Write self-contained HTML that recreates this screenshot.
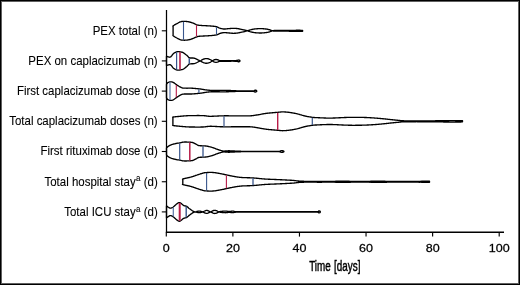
<!DOCTYPE html>
<html><head><meta charset="utf-8"><style>
html,body{margin:0;padding:0;background:#fff;}
body{width:520px;height:285px;overflow:hidden;position:relative;}
.frame{position:absolute;left:0;top:0;width:520px;height:285px;box-sizing:border-box;border:1px solid #000;box-shadow:inset 0 0 0 1px #606060;}
svg{position:absolute;left:0;top:0;will-change:transform;}
text{font-family:"Liberation Sans",sans-serif;fill:#000;}
.lb{font-size:12.4px;stroke:#000;stroke-width:0.1px;}
.sup{font-size:8.6px;}
.tk{font-size:11.6px;stroke:#000;stroke-width:0.25px;}
.ttl{font-size:14.0px;word-spacing:0.8px;stroke:#000;stroke-width:0.45px;}
</style></head><body>
<svg width="520" height="285" viewBox="0 0 520 285">
<path d="M173.1,26.35 L172.9,26.16 L173.2,25.80 L173.5,25.56 L174.0,25.26 L174.5,24.92 L175.1,24.56 L175.8,24.20 L176.4,23.85 L176.9,23.59 L177.4,23.31 L178.0,23.02 L178.5,22.73 L179.1,22.45 L179.6,22.20 L180.1,21.98 L180.6,21.80 L181.2,21.63 L181.7,21.52 L182.1,21.46 L182.6,21.43 L183.1,21.41 L183.6,21.40 L184.1,21.39 L184.6,21.39 L185.2,21.40 L185.7,21.43 L186.3,21.47 L186.8,21.52 L187.4,21.60 L187.9,21.68 L188.4,21.77 L188.9,21.87 L189.5,21.99 L190.0,22.12 L190.5,22.26 L191.1,22.42 L191.6,22.60 L192.1,22.78 L192.6,22.99 L193.2,23.23 L193.8,23.47 L194.3,23.72 L194.8,23.96 L195.3,24.19 L195.8,24.39 L196.2,24.55 L196.9,24.81 L197.3,24.98 L197.7,25.09 L198.3,25.20 L198.8,25.27 L199.2,25.33 L199.8,25.37 L200.3,25.41 L201.0,25.45 L201.7,25.50 L202.1,25.53 L202.6,25.55 L203.2,25.58 L203.7,25.61 L204.3,25.64 L204.9,25.66 L205.5,25.69 L206.0,25.72 L206.6,25.75 L207.1,25.77 L207.6,25.80 L208.2,25.84 L208.8,25.87 L209.4,25.90 L209.9,25.93 L210.4,25.97 L210.9,26.00 L211.5,26.05 L212.0,26.10 L212.6,26.15 L213.1,26.21 L213.7,26.26 L214.2,26.33 L214.8,26.40 L215.4,26.48 L215.9,26.58 L216.4,26.70 L217.0,26.87 L217.5,27.08 L218.0,27.32 L218.5,27.56 L219.0,27.80 L219.5,28.01 L220.0,28.20 L220.5,28.34 L221.0,28.48 L221.5,28.60 L222.0,28.71 L222.5,28.81 L223.0,28.89 L223.5,28.96 L224.0,29.00 L224.5,29.02 L225.0,29.00 L225.4,28.97 L225.9,28.93 L226.4,28.87 L226.9,28.81 L227.4,28.75 L228.0,28.70 L228.5,28.66 L229.0,28.62 L229.5,28.57 L230.1,28.51 L230.6,28.46 L231.2,28.41 L231.7,28.37 L232.3,28.34 L232.8,28.31 L233.3,28.30 L233.9,28.30 L234.4,28.32 L235.0,28.34 L235.5,28.38 L236.0,28.43 L236.5,28.48 L237.0,28.54 L237.5,28.60 L238.0,28.68 L238.6,28.77 L239.1,28.87 L239.6,28.98 L240.0,29.09 L240.5,29.20 L241.0,29.30 L241.6,29.42 L242.1,29.53 L242.7,29.64 L243.2,29.76 L243.8,29.88 L244.3,30.00 L244.8,30.13 L245.3,30.25 L245.8,30.38 L246.3,30.51 L246.8,30.65 L247.3,30.80 L247.8,30.96 L248.3,31.13 L248.8,31.30 L249.4,31.47 L249.9,31.64 L250.5,31.80 L251.0,31.91 L251.4,32.02 L251.9,32.13 L252.4,32.24 L252.9,32.34 L253.4,32.43 L253.9,32.52 L254.5,32.60 L254.9,32.65 L255.4,32.71 L255.9,32.76 L256.4,32.80 L256.9,32.85 L257.4,32.89 L258.0,32.92 L258.5,32.95 L259.0,32.98 L259.5,32.99 L260.0,33.00 L260.5,33.00 L261.0,32.99 L261.6,32.97 L262.1,32.95 L262.6,32.92 L263.1,32.88 L263.6,32.84 L264.1,32.80 L264.5,32.75 L265.0,32.70 L265.6,32.64 L266.1,32.56 L266.6,32.49 L267.1,32.41 L267.6,32.32 L268.1,32.22 L268.5,32.11 L269.0,32.00 L269.5,31.85 L270.1,31.67 L270.6,31.47 L271.1,31.28 L271.6,31.09 L272.1,30.93 L272.5,30.80 L272.9,30.68 L273.2,30.60 L273.5,30.56 L274.0,30.53 L275.0,30.50 L275.3,30.49 L275.7,30.49 L276.1,30.48 L276.5,30.48 L277.0,30.47 L277.4,30.47 L277.9,30.47 L278.5,30.47 L279.0,30.47 L279.5,30.47 L280.1,30.47 L280.6,30.47 L281.2,30.46 L281.8,30.46 L282.3,30.46 L282.9,30.46 L283.4,30.46 L284.0,30.46 L284.5,30.45 L285.0,30.45 L285.5,30.44 L286.0,30.44 L286.5,30.43 L287.0,30.42 L287.6,30.42 L288.1,30.41 L288.6,30.40 L289.1,30.39 L289.6,30.38 L290.2,30.37 L290.7,30.36 L291.2,30.35 L291.7,30.35 L292.2,30.34 L292.7,30.33 L293.2,30.32 L293.6,30.32 L294.1,30.31 L294.6,30.30 L295.0,30.30 L295.6,30.30 L296.1,30.29 L296.7,30.29 L297.2,30.29 L297.7,30.29 L298.2,30.29 L298.7,30.29 L299.2,30.29 L299.7,30.29 L300.2,30.29 L300.6,30.30 L301.1,30.30 L301.6,30.30 L302.1,30.30 L302.6,30.30 L302.6,31.30 L302.1,31.30 L301.6,31.30 L301.1,31.30 L300.6,31.30 L300.2,31.31 L299.7,31.31 L299.2,31.31 L298.7,31.31 L298.2,31.31 L297.7,31.31 L297.2,31.31 L296.7,31.31 L296.1,31.31 L295.6,31.30 L295.0,31.30 L294.6,31.30 L294.1,31.29 L293.6,31.28 L293.2,31.28 L292.7,31.27 L292.2,31.26 L291.7,31.25 L291.2,31.25 L290.7,31.24 L290.2,31.23 L289.6,31.22 L289.1,31.21 L288.6,31.20 L288.1,31.19 L287.6,31.18 L287.0,31.18 L286.5,31.17 L286.0,31.16 L285.5,31.16 L285.0,31.15 L284.5,31.15 L284.0,31.14 L283.4,31.14 L282.9,31.14 L282.3,31.14 L281.8,31.14 L281.2,31.14 L280.6,31.13 L280.1,31.13 L279.5,31.13 L279.0,31.13 L278.5,31.13 L277.9,31.13 L277.4,31.13 L277.0,31.13 L276.5,31.12 L276.1,31.12 L275.7,31.11 L275.3,31.11 L275.0,31.10 L274.0,31.07 L273.5,31.04 L273.2,31.00 L272.9,30.92 L272.5,30.80 L272.1,30.67 L271.6,30.51 L271.1,30.32 L270.6,30.13 L270.1,29.93 L269.5,29.75 L269.0,29.60 L268.5,29.49 L268.1,29.38 L267.6,29.28 L267.1,29.19 L266.6,29.11 L266.1,29.04 L265.6,28.96 L265.0,28.90 L264.5,28.85 L264.1,28.80 L263.6,28.76 L263.1,28.72 L262.6,28.68 L262.1,28.65 L261.6,28.63 L261.0,28.61 L260.5,28.60 L260.0,28.60 L259.5,28.61 L259.0,28.62 L258.5,28.65 L258.0,28.68 L257.4,28.71 L256.9,28.75 L256.4,28.80 L255.9,28.84 L255.4,28.89 L254.9,28.95 L254.5,29.00 L253.9,29.08 L253.4,29.17 L252.9,29.26 L252.4,29.36 L251.9,29.47 L251.4,29.58 L251.0,29.69 L250.5,29.80 L249.9,29.96 L249.4,30.13 L248.8,30.30 L248.3,30.47 L247.8,30.64 L247.3,30.80 L246.8,30.95 L246.3,31.09 L245.8,31.22 L245.3,31.35 L244.8,31.47 L244.3,31.60 L243.8,31.72 L243.2,31.84 L242.7,31.96 L242.1,32.07 L241.6,32.18 L241.0,32.30 L240.5,32.40 L240.0,32.51 L239.6,32.62 L239.1,32.73 L238.6,32.83 L238.0,32.92 L237.5,33.00 L237.0,33.06 L236.5,33.12 L236.0,33.17 L235.5,33.22 L235.0,33.26 L234.4,33.28 L233.9,33.30 L233.3,33.30 L232.8,33.29 L232.3,33.26 L231.7,33.23 L231.2,33.19 L230.6,33.14 L230.1,33.09 L229.5,33.03 L229.0,32.98 L228.5,32.94 L228.0,32.90 L227.4,32.85 L226.9,32.79 L226.4,32.73 L225.9,32.67 L225.4,32.63 L225.0,32.60 L224.5,32.58 L224.0,32.60 L223.5,32.64 L223.0,32.71 L222.5,32.79 L222.0,32.89 L221.5,33.00 L221.0,33.12 L220.5,33.26 L220.0,33.40 L219.5,33.59 L219.0,33.80 L218.5,34.04 L218.0,34.28 L217.5,34.52 L217.0,34.73 L216.4,34.90 L215.9,35.02 L215.4,35.12 L214.8,35.20 L214.2,35.27 L213.7,35.34 L213.1,35.39 L212.6,35.45 L212.0,35.50 L211.5,35.55 L210.9,35.60 L210.4,35.63 L209.9,35.67 L209.4,35.70 L208.8,35.73 L208.2,35.76 L207.6,35.80 L207.1,35.83 L206.6,35.85 L206.0,35.88 L205.5,35.91 L204.9,35.94 L204.3,35.96 L203.7,35.99 L203.2,36.02 L202.6,36.05 L202.1,36.07 L201.7,36.10 L201.0,36.15 L200.3,36.19 L199.8,36.23 L199.2,36.27 L198.8,36.33 L198.3,36.40 L197.7,36.51 L197.3,36.62 L196.9,36.79 L196.2,37.05 L195.8,37.21 L195.3,37.41 L194.8,37.64 L194.3,37.88 L193.8,38.13 L193.2,38.37 L192.6,38.61 L192.1,38.82 L191.6,39.00 L191.1,39.18 L190.5,39.34 L190.0,39.48 L189.5,39.61 L188.9,39.73 L188.4,39.83 L187.9,39.92 L187.4,40.00 L186.8,40.08 L186.3,40.13 L185.7,40.17 L185.2,40.20 L184.6,40.21 L184.1,40.21 L183.6,40.20 L183.1,40.19 L182.6,40.17 L182.1,40.14 L181.7,40.08 L181.2,39.97 L180.6,39.80 L180.1,39.62 L179.6,39.40 L179.1,39.15 L178.5,38.87 L178.0,38.58 L177.4,38.29 L176.9,38.01 L176.4,37.75 L175.8,37.40 L175.1,37.04 L174.5,36.68 L174.0,36.34 L173.5,36.04 L173.2,35.80 L172.9,35.44 L173.1,35.25Z" fill="#fff" stroke="#000" stroke-width="1.35" stroke-linejoin="round"/>
<line x1="183.50" y1="21.80" x2="183.50" y2="39.80" stroke="#39568c" stroke-width="1.1"/>
<line x1="196.50" y1="25.07" x2="196.50" y2="36.53" stroke="#b71c48" stroke-width="1.1"/>
<line x1="216.50" y1="27.13" x2="216.50" y2="34.47" stroke="#39568c" stroke-width="1.1"/>
<path d="M166.5,56.30 L167.0,56.46 L167.5,56.62 L168.0,56.77 L168.5,56.90 L169.0,57.07 L169.5,57.21 L170.0,57.20 L170.5,56.98 L171.0,56.60 L171.5,56.10 L172.0,55.43 L172.5,54.63 L173.1,53.90 L173.6,53.43 L174.3,53.00 L174.9,52.62 L175.5,52.30 L176.0,52.06 L176.6,51.89 L177.1,51.77 L177.7,51.70 L178.2,51.68 L178.8,51.69 L179.4,51.74 L179.9,51.81 L180.5,51.90 L181.0,51.99 L181.5,52.09 L182.1,52.22 L182.6,52.42 L183.2,52.70 L183.7,52.98 L184.2,53.32 L184.7,53.70 L185.3,54.11 L185.8,54.52 L186.3,54.92 L186.8,55.30 L187.5,55.96 L188.1,56.64 L188.6,57.25 L189.1,57.70 L189.7,57.96 L190.3,57.99 L191.0,58.00 L191.5,58.02 L192.0,58.03 L192.6,58.03 L193.2,58.04 L193.7,58.10 L194.3,58.23 L194.9,58.39 L195.5,58.59 L196.0,58.80 L196.5,59.03 L197.0,59.27 L197.5,59.54 L198.0,59.80 L198.5,60.06 L199.1,60.33 L199.6,60.61 L200.2,60.90 L200.8,61.21 L201.4,61.54 L201.9,61.87 L202.5,62.15 L203.0,62.39 L203.5,62.61 L204.0,62.80 L204.5,62.95 L205.1,63.11 L205.8,63.22 L206.4,63.25 L206.9,63.22 L207.4,63.15 L208.0,63.04 L208.5,62.90 L209.0,62.73 L209.5,62.52 L210.0,62.30 L210.5,62.05 L211.0,61.78 L211.5,61.48 L212.0,61.18 L212.5,60.90 L213.0,60.55 L213.5,60.22 L214.0,59.95 L214.5,59.74 L215.1,59.59 L215.6,59.50 L216.3,59.49 L217.0,59.60 L217.5,59.76 L218.1,59.96 L218.6,60.15 L219.2,60.38 L219.9,60.55 L220.3,60.58 L220.8,60.59 L221.3,60.58 L222.0,60.58 L222.4,60.58 L222.9,60.59 L223.4,60.59 L223.9,60.59 L224.4,60.59 L225.0,60.60 L225.5,60.60 L226.0,60.60 L226.5,60.60 L227.0,60.60 L227.5,60.60 L228.0,60.60 L228.5,60.60 L229.0,60.60 L229.5,60.60 L230.0,60.60 L230.5,60.60 L231.0,60.60 L231.6,60.60 L232.1,60.61 L232.6,60.61 L233.1,60.61 L233.6,60.60 L234.0,60.60 L234.7,60.59 L235.3,60.58 L235.8,60.57 L236.3,60.54 L236.8,60.50 L237.4,60.36 L237.9,60.17 L238.3,60.05 L238.9,60.04 L239.3,60.15 L239.6,60.35 L239.9,60.60 L239.9,61.20 L239.6,61.45 L239.3,61.65 L238.9,61.76 L238.3,61.75 L237.9,61.63 L237.4,61.44 L236.8,61.30 L236.3,61.26 L235.8,61.23 L235.3,61.22 L234.7,61.21 L234.0,61.20 L233.6,61.20 L233.1,61.19 L232.6,61.19 L232.1,61.19 L231.6,61.20 L231.0,61.20 L230.5,61.20 L230.0,61.20 L229.5,61.20 L229.0,61.20 L228.5,61.20 L228.0,61.20 L227.5,61.20 L227.0,61.20 L226.5,61.20 L226.0,61.20 L225.5,61.20 L225.0,61.20 L224.4,61.21 L223.9,61.21 L223.4,61.21 L222.9,61.21 L222.4,61.22 L222.0,61.22 L221.3,61.22 L220.8,61.21 L220.3,61.22 L219.9,61.25 L219.2,61.42 L218.6,61.65 L218.1,61.84 L217.5,62.04 L217.0,62.20 L216.3,62.31 L215.6,62.30 L215.1,62.21 L214.5,62.06 L214.0,61.85 L213.5,61.58 L213.0,61.25 L212.5,60.90 L212.0,60.62 L211.5,60.32 L211.0,60.02 L210.5,59.75 L210.0,59.50 L209.5,59.27 L209.0,59.07 L208.5,58.90 L208.0,58.76 L207.4,58.65 L206.9,58.58 L206.4,58.55 L205.8,58.58 L205.1,58.69 L204.5,58.85 L204.0,59.00 L203.5,59.19 L203.0,59.41 L202.5,59.65 L201.9,59.93 L201.4,60.26 L200.8,60.59 L200.2,60.90 L199.6,61.19 L199.1,61.47 L198.5,61.74 L198.0,62.00 L197.5,62.26 L197.0,62.52 L196.5,62.77 L196.0,63.00 L195.5,63.21 L194.9,63.41 L194.3,63.57 L193.7,63.70 L193.2,63.76 L192.6,63.77 L192.0,63.77 L191.5,63.78 L191.0,63.80 L190.3,63.81 L189.7,63.84 L189.1,64.10 L188.6,64.55 L188.1,65.16 L187.5,65.84 L186.8,66.50 L186.3,66.88 L185.8,67.28 L185.3,67.69 L184.7,68.10 L184.2,68.48 L183.7,68.82 L183.2,69.10 L182.6,69.38 L182.1,69.58 L181.5,69.71 L181.0,69.81 L180.5,69.90 L179.9,69.99 L179.4,70.06 L178.8,70.11 L178.2,70.12 L177.7,70.10 L177.1,70.03 L176.6,69.91 L176.0,69.74 L175.5,69.50 L174.9,69.18 L174.3,68.80 L173.6,68.37 L173.1,67.90 L172.5,67.17 L172.0,66.37 L171.5,65.70 L171.0,65.20 L170.5,64.82 L170.0,64.60 L169.5,64.59 L169.0,64.73 L168.5,64.90 L168.0,65.03 L167.5,65.18 L167.0,65.34 L166.5,65.50Z" fill="#fff" stroke="#000" stroke-width="1.35" stroke-linejoin="round"/>
<line x1="176.60" y1="52.28" x2="176.60" y2="69.52" stroke="#39568c" stroke-width="1.2"/>
<line x1="180.00" y1="52.22" x2="180.00" y2="69.58" stroke="#b71c48" stroke-width="1.6"/>
<line x1="189.30" y1="58.18" x2="189.30" y2="63.62" stroke="#39568c" stroke-width="1.5"/>
<path d="M166.5,84.30 L167.0,83.66 L167.4,83.02 L168.0,82.50 L168.5,82.27 L169.1,82.08 L169.7,81.94 L170.3,81.85 L170.8,81.80 L171.4,81.80 L171.9,81.87 L172.5,82.03 L173.1,82.30 L173.6,82.57 L174.1,82.90 L174.6,83.28 L175.2,83.69 L175.7,84.10 L176.3,84.50 L176.8,84.84 L177.3,85.21 L177.9,85.58 L178.5,85.95 L179.0,86.30 L179.5,86.62 L180.0,86.90 L180.6,87.22 L181.1,87.48 L181.6,87.69 L182.1,87.86 L182.7,88.00 L183.2,88.09 L183.7,88.14 L184.2,88.17 L184.7,88.18 L185.3,88.19 L186.0,88.20 L186.4,88.21 L186.9,88.20 L187.4,88.20 L187.9,88.19 L188.4,88.17 L189.0,88.17 L189.6,88.16 L190.2,88.16 L190.8,88.18 L191.4,88.20 L191.9,88.22 L192.4,88.26 L192.9,88.29 L193.5,88.33 L194.0,88.37 L194.6,88.42 L195.2,88.47 L195.7,88.52 L196.3,88.57 L196.8,88.62 L197.3,88.67 L197.8,88.71 L198.3,88.76 L198.7,88.80 L199.4,88.88 L200.0,88.95 L200.5,89.02 L201.0,89.08 L201.5,89.15 L201.9,89.22 L202.4,89.30 L202.9,89.38 L203.4,89.47 L203.9,89.55 L204.3,89.64 L204.8,89.73 L205.4,89.82 L206.0,89.90 L206.4,89.95 L206.9,90.01 L207.4,90.07 L207.9,90.13 L208.4,90.18 L208.9,90.24 L209.4,90.29 L209.9,90.34 L210.5,90.38 L211.0,90.42 L211.5,90.45 L212.0,90.47 L212.5,90.48 L213.0,90.49 L213.5,90.49 L213.9,90.49 L214.4,90.49 L214.9,90.48 L215.4,90.47 L215.9,90.46 L216.5,90.46 L217.0,90.45 L217.5,90.44 L218.0,90.44 L218.5,90.43 L219.0,90.42 L219.5,90.41 L220.0,90.40 L220.6,90.39 L221.1,90.37 L221.6,90.37 L222.1,90.36 L222.6,90.35 L223.1,90.35 L223.6,90.35 L224.2,90.35 L224.8,90.36 L225.3,90.38 L225.9,90.39 L226.4,90.41 L226.9,90.43 L227.4,90.45 L228.0,90.47 L228.5,90.48 L229.0,90.50 L229.5,90.51 L230.0,90.53 L230.6,90.54 L231.1,90.56 L231.6,90.57 L232.1,90.59 L232.6,90.60 L233.1,90.62 L233.5,90.63 L234.0,90.65 L234.5,90.67 L234.9,90.70 L235.2,90.73 L235.6,90.75 L236.0,90.78 L236.5,90.81 L237.1,90.83 L238.0,90.85 L238.4,90.86 L238.7,90.86 L239.2,90.87 L239.6,90.88 L240.1,90.88 L240.6,90.89 L241.2,90.89 L241.7,90.90 L242.3,90.91 L242.9,90.91 L243.4,90.92 L244.0,90.92 L244.6,90.93 L245.2,90.93 L245.8,90.94 L246.3,90.94 L246.9,90.94 L247.4,90.94 L247.9,90.95 L248.4,90.95 L248.9,90.95 L249.3,90.95 L249.7,90.95 L250.0,90.95 L251.0,90.95 L251.7,90.94 L252.2,90.93 L252.6,90.91 L252.9,90.88 L253.2,90.85 L253.5,90.80 L254.2,90.60 L254.7,90.36 L255.1,90.20 L255.7,90.23 L256.2,90.40 L256.5,90.63 L256.8,90.90 L256.8,91.30 L256.5,91.57 L256.2,91.80 L255.7,91.97 L255.1,92.00 L254.7,91.84 L254.2,91.60 L253.5,91.40 L253.2,91.35 L252.9,91.32 L252.6,91.29 L252.2,91.27 L251.7,91.26 L251.0,91.25 L250.0,91.25 L249.7,91.25 L249.3,91.25 L248.9,91.25 L248.4,91.25 L247.9,91.25 L247.4,91.26 L246.9,91.26 L246.3,91.26 L245.8,91.26 L245.2,91.27 L244.6,91.27 L244.0,91.28 L243.4,91.28 L242.9,91.29 L242.3,91.29 L241.7,91.30 L241.2,91.31 L240.6,91.31 L240.1,91.32 L239.6,91.32 L239.2,91.33 L238.7,91.34 L238.4,91.34 L238.0,91.35 L237.1,91.37 L236.5,91.39 L236.0,91.42 L235.6,91.45 L235.2,91.47 L234.9,91.50 L234.5,91.53 L234.0,91.55 L233.5,91.57 L233.1,91.58 L232.6,91.60 L232.1,91.61 L231.6,91.63 L231.1,91.64 L230.6,91.66 L230.0,91.67 L229.5,91.69 L229.0,91.70 L228.5,91.72 L228.0,91.73 L227.4,91.75 L226.9,91.77 L226.4,91.79 L225.9,91.81 L225.3,91.82 L224.8,91.84 L224.2,91.85 L223.6,91.85 L223.1,91.85 L222.6,91.85 L222.1,91.84 L221.6,91.83 L221.1,91.83 L220.6,91.81 L220.0,91.80 L219.5,91.79 L219.0,91.78 L218.5,91.77 L218.0,91.76 L217.5,91.76 L217.0,91.75 L216.5,91.74 L215.9,91.74 L215.4,91.73 L214.9,91.72 L214.4,91.71 L213.9,91.71 L213.5,91.71 L213.0,91.71 L212.5,91.72 L212.0,91.73 L211.5,91.75 L211.0,91.78 L210.5,91.82 L209.9,91.86 L209.4,91.91 L208.9,91.96 L208.4,92.02 L207.9,92.07 L207.4,92.13 L206.9,92.19 L206.4,92.25 L206.0,92.30 L205.4,92.38 L204.8,92.47 L204.3,92.56 L203.9,92.65 L203.4,92.73 L202.9,92.82 L202.4,92.90 L201.9,92.98 L201.5,93.05 L201.0,93.12 L200.5,93.18 L200.0,93.25 L199.4,93.32 L198.7,93.40 L198.3,93.44 L197.8,93.49 L197.3,93.53 L196.8,93.58 L196.3,93.63 L195.7,93.68 L195.2,93.73 L194.6,93.78 L194.0,93.83 L193.5,93.87 L192.9,93.91 L192.4,93.94 L191.9,93.98 L191.4,94.00 L190.8,94.02 L190.2,94.04 L189.6,94.04 L189.0,94.03 L188.4,94.02 L187.9,94.01 L187.4,94.00 L186.9,94.00 L186.4,93.99 L186.0,94.00 L185.3,94.01 L184.7,94.02 L184.2,94.03 L183.7,94.06 L183.2,94.11 L182.7,94.20 L182.1,94.34 L181.6,94.51 L181.1,94.72 L180.6,94.98 L180.0,95.30 L179.5,95.58 L179.0,95.90 L178.5,96.25 L177.9,96.62 L177.3,96.99 L176.8,97.36 L176.3,97.70 L175.7,98.10 L175.2,98.51 L174.6,98.92 L174.1,99.30 L173.6,99.63 L173.1,99.90 L172.5,100.17 L171.9,100.33 L171.4,100.40 L170.8,100.40 L170.3,100.35 L169.7,100.26 L169.1,100.12 L168.5,99.93 L168.0,99.70 L167.4,99.18 L167.0,98.54 L166.5,97.90Z" fill="#fff" stroke="#000" stroke-width="1.35" stroke-linejoin="round"/>
<line x1="170.00" y1="82.29" x2="170.00" y2="99.91" stroke="#5a74a8" stroke-width="1.2"/>
<line x1="176.30" y1="84.90" x2="176.30" y2="97.30" stroke="#b71c48" stroke-width="1.1"/>
<line x1="198.90" y1="89.22" x2="198.90" y2="92.98" stroke="#39568c" stroke-width="1.2"/>
<path d="M172.9,117.25 L172.7,117.15 L173.3,117.00 L173.6,116.96 L174.0,116.91 L174.4,116.86 L174.9,116.81 L175.5,116.75 L176.0,116.69 L176.6,116.63 L177.2,116.57 L177.8,116.51 L178.4,116.46 L179.0,116.40 L179.5,116.35 L180.0,116.30 L180.5,116.26 L181.0,116.21 L181.5,116.16 L182.0,116.12 L182.6,116.07 L183.1,116.02 L183.6,115.98 L184.1,115.94 L184.6,115.90 L185.1,115.86 L185.5,115.83 L186.0,115.80 L186.5,115.76 L187.0,115.73 L187.4,115.71 L187.8,115.69 L188.2,115.67 L188.6,115.65 L189.1,115.63 L189.6,115.62 L190.2,115.61 L191.0,115.60 L191.4,115.60 L191.8,115.59 L192.2,115.58 L192.7,115.58 L193.2,115.57 L193.7,115.57 L194.2,115.56 L194.7,115.56 L195.3,115.55 L195.8,115.55 L196.4,115.55 L197.0,115.54 L197.5,115.54 L198.1,115.54 L198.7,115.54 L199.2,115.54 L199.7,115.55 L200.3,115.55 L200.8,115.56 L201.3,115.56 L201.7,115.57 L202.2,115.59 L202.6,115.60 L203.3,115.63 L203.9,115.68 L204.5,115.73 L205.1,115.79 L205.6,115.86 L206.1,115.93 L206.6,116.00 L207.1,116.06 L207.6,116.13 L208.0,116.19 L208.5,116.23 L209.0,116.27 L209.5,116.30 L210.0,116.31 L210.5,116.32 L211.0,116.32 L211.5,116.31 L212.0,116.29 L212.5,116.27 L213.0,116.25 L213.5,116.23 L213.9,116.20 L214.4,116.17 L215.0,116.15 L215.5,116.12 L216.0,116.10 L216.5,116.08 L216.9,116.06 L217.4,116.04 L217.8,116.01 L218.2,115.99 L218.6,115.96 L219.1,115.93 L219.5,115.91 L220.0,115.89 L220.6,115.86 L221.2,115.84 L221.9,115.83 L222.6,115.81 L223.4,115.80 L223.8,115.80 L224.2,115.79 L224.6,115.79 L225.0,115.79 L225.5,115.79 L225.9,115.79 L226.4,115.79 L226.9,115.79 L227.4,115.79 L228.0,115.79 L228.5,115.79 L229.0,115.80 L229.6,115.80 L230.1,115.80 L230.7,115.80 L231.2,115.81 L231.8,115.81 L232.4,115.81 L232.9,115.82 L233.5,115.82 L234.0,115.82 L234.6,115.83 L235.1,115.83 L235.7,115.83 L236.2,115.84 L236.7,115.84 L237.2,115.84 L237.7,115.84 L238.2,115.85 L238.7,115.85 L239.1,115.85 L239.6,115.85 L240.0,115.85 L240.7,115.85 L241.3,115.85 L241.9,115.86 L242.5,115.86 L243.1,115.87 L243.7,115.87 L244.2,115.88 L244.7,115.88 L245.3,115.89 L245.8,115.89 L246.3,115.89 L246.7,115.89 L247.2,115.89 L247.7,115.89 L248.1,115.88 L248.6,115.87 L249.1,115.86 L249.5,115.84 L250.0,115.82 L250.4,115.80 L251.0,115.76 L251.6,115.72 L252.1,115.67 L252.6,115.61 L253.1,115.55 L253.6,115.49 L254.1,115.42 L254.6,115.35 L255.1,115.27 L255.5,115.20 L256.0,115.12 L256.5,115.04 L257.0,114.96 L257.5,114.88 L258.0,114.80 L258.5,114.72 L259.0,114.64 L259.4,114.56 L259.9,114.47 L260.3,114.38 L260.8,114.29 L261.3,114.20 L261.7,114.11 L262.2,114.01 L262.7,113.92 L263.2,113.83 L263.7,113.74 L264.3,113.65 L264.8,113.56 L265.4,113.48 L266.0,113.40 L266.4,113.35 L266.9,113.29 L267.4,113.24 L267.9,113.18 L268.4,113.13 L268.9,113.07 L269.5,113.02 L270.0,112.97 L270.6,112.92 L271.2,112.86 L271.7,112.81 L272.3,112.76 L272.8,112.71 L273.4,112.67 L273.9,112.62 L274.5,112.57 L275.0,112.53 L275.5,112.49 L276.0,112.45 L276.4,112.41 L276.9,112.37 L277.3,112.33 L277.7,112.30 L278.4,112.23 L279.1,112.17 L279.6,112.11 L280.1,112.06 L280.6,112.01 L281.0,111.97 L281.4,111.94 L281.9,111.92 L282.3,111.90 L282.8,111.90 L283.3,111.90 L283.8,111.91 L284.3,111.93 L284.8,111.96 L285.3,111.99 L285.8,112.03 L286.3,112.07 L286.8,112.12 L287.3,112.17 L287.9,112.23 L288.4,112.29 L288.9,112.36 L289.5,112.43 L290.0,112.50 L290.5,112.57 L291.0,112.64 L291.5,112.72 L292.0,112.79 L292.5,112.88 L293.0,112.96 L293.5,113.05 L294.0,113.14 L294.5,113.24 L295.0,113.34 L295.5,113.45 L296.0,113.56 L296.6,113.68 L297.1,113.80 L297.6,113.92 L298.1,114.06 L298.6,114.20 L299.2,114.35 L299.7,114.50 L300.2,114.66 L300.8,114.82 L301.3,114.98 L301.8,115.14 L302.4,115.30 L302.9,115.45 L303.4,115.60 L304.0,115.74 L304.5,115.88 L305.0,116.00 L305.5,116.12 L306.1,116.24 L306.7,116.36 L307.2,116.47 L307.8,116.57 L308.4,116.67 L308.9,116.77 L309.5,116.86 L310.0,116.95 L310.5,117.03 L311.0,117.10 L311.5,117.17 L311.9,117.24 L312.3,117.30 L312.9,117.39 L313.3,117.45 L313.6,117.49 L313.9,117.51 L314.3,117.53 L315.0,117.56 L316.0,117.60 L316.3,117.62 L316.7,117.63 L317.1,117.65 L317.5,117.67 L317.9,117.69 L318.3,117.71 L318.8,117.74 L319.2,117.76 L319.7,117.78 L320.2,117.81 L320.7,117.83 L321.2,117.86 L321.8,117.88 L322.3,117.91 L322.8,117.93 L323.4,117.95 L323.9,117.97 L324.5,117.99 L325.1,118.01 L325.6,118.03 L326.2,118.05 L326.7,118.06 L327.3,118.07 L327.9,118.08 L328.4,118.09 L328.9,118.10 L329.5,118.10 L330.0,118.10 L330.5,118.10 L331.0,118.09 L331.5,118.08 L332.0,118.07 L332.5,118.06 L333.0,118.04 L333.5,118.03 L334.1,118.01 L334.6,117.99 L335.1,117.97 L335.7,117.94 L336.2,117.92 L336.7,117.90 L337.2,117.87 L337.8,117.84 L338.3,117.82 L338.8,117.79 L339.3,117.76 L339.9,117.74 L340.4,117.71 L340.9,117.69 L341.4,117.66 L341.8,117.64 L342.3,117.61 L342.8,117.59 L343.3,117.57 L343.7,117.55 L344.2,117.53 L344.6,117.51 L345.0,117.50 L345.6,117.48 L346.2,117.46 L346.8,117.44 L347.3,117.42 L347.8,117.41 L348.3,117.39 L348.8,117.38 L349.2,117.36 L349.7,117.35 L350.1,117.34 L350.6,117.33 L351.0,117.32 L351.5,117.31 L351.9,117.31 L352.4,117.30 L352.9,117.30 L353.5,117.30 L354.0,117.30 L354.6,117.30 L355.0,117.30 L355.5,117.31 L356.0,117.31 L356.5,117.31 L357.0,117.32 L357.5,117.32 L358.0,117.33 L358.5,117.34 L359.0,117.34 L359.5,117.35 L360.0,117.36 L360.6,117.37 L361.1,117.38 L361.7,117.39 L362.2,117.41 L362.7,117.42 L363.3,117.43 L363.8,117.45 L364.4,117.46 L364.9,117.48 L365.4,117.50 L365.9,117.52 L366.5,117.54 L367.0,117.56 L367.5,117.58 L368.0,117.60 L368.5,117.62 L369.0,117.65 L369.6,117.68 L370.1,117.71 L370.6,117.74 L371.1,117.77 L371.6,117.81 L372.2,117.84 L372.7,117.88 L373.2,117.91 L373.7,117.95 L374.2,117.99 L374.7,118.03 L375.3,118.06 L375.8,118.10 L376.3,118.14 L376.8,118.18 L377.2,118.22 L377.7,118.26 L378.2,118.30 L378.7,118.34 L379.1,118.38 L379.6,118.42 L380.1,118.46 L380.5,118.50 L381.1,118.55 L381.6,118.60 L382.2,118.65 L382.7,118.71 L383.3,118.76 L383.8,118.82 L384.3,118.87 L384.8,118.92 L385.3,118.98 L385.8,119.03 L386.3,119.09 L386.7,119.14 L387.2,119.20 L387.7,119.25 L388.2,119.30 L388.6,119.35 L389.1,119.40 L389.5,119.45 L390.0,119.50 L390.5,119.56 L391.1,119.61 L391.6,119.67 L392.1,119.72 L392.6,119.77 L393.1,119.83 L393.6,119.88 L394.1,119.93 L394.6,119.98 L395.1,120.03 L395.6,120.08 L396.0,120.12 L396.5,120.17 L397.0,120.21 L397.5,120.26 L398.0,120.30 L398.5,120.34 L398.9,120.38 L399.3,120.43 L399.6,120.47 L400.0,120.51 L400.3,120.55 L400.6,120.59 L401.0,120.62 L401.4,120.66 L401.8,120.70 L402.3,120.73 L402.9,120.76 L403.5,120.78 L404.2,120.81 L405.1,120.83 L406.0,120.85 L406.3,120.86 L406.7,120.86 L407.1,120.87 L407.5,120.87 L407.9,120.87 L408.3,120.88 L408.8,120.88 L409.2,120.88 L409.7,120.89 L410.2,120.89 L410.7,120.89 L411.2,120.89 L411.7,120.89 L412.3,120.89 L412.8,120.90 L413.3,120.90 L413.9,120.90 L414.4,120.90 L415.0,120.90 L415.6,120.90 L416.1,120.90 L416.7,120.90 L417.3,120.89 L417.9,120.89 L418.5,120.89 L419.0,120.89 L419.6,120.89 L420.2,120.89 L420.8,120.89 L421.3,120.89 L421.9,120.88 L422.4,120.88 L423.0,120.88 L423.5,120.88 L424.1,120.88 L424.6,120.87 L425.1,120.87 L425.6,120.87 L426.1,120.87 L426.6,120.87 L427.1,120.86 L427.6,120.86 L428.0,120.86 L428.4,120.86 L428.9,120.86 L429.3,120.85 L429.6,120.85 L430.0,120.85 L430.8,120.85 L431.6,120.84 L432.3,120.84 L432.9,120.83 L433.5,120.82 L434.0,120.82 L434.5,120.81 L435.0,120.80 L435.5,120.79 L435.9,120.78 L436.3,120.78 L436.7,120.77 L437.1,120.76 L437.4,120.75 L437.8,120.74 L438.2,120.73 L438.6,120.72 L439.1,120.72 L439.5,120.71 L440.0,120.70 L440.5,120.69 L441.0,120.68 L441.5,120.68 L442.0,120.67 L442.5,120.66 L443.0,120.65 L443.5,120.64 L444.0,120.63 L444.5,120.62 L445.0,120.61 L445.5,120.60 L446.0,120.60 L446.5,120.59 L447.0,120.58 L447.5,120.57 L448.0,120.57 L448.5,120.56 L449.0,120.56 L449.5,120.55 L450.0,120.55 L450.5,120.55 L451.0,120.55 L451.6,120.55 L452.1,120.55 L452.7,120.55 L453.2,120.55 L453.8,120.55 L454.4,120.55 L454.9,120.55 L455.5,120.56 L456.0,120.56 L456.5,120.56 L457.1,120.57 L457.6,120.57 L458.0,120.58 L458.5,120.58 L458.9,120.59 L459.3,120.59 L459.7,120.60 L460.0,120.60 L461.0,120.62 L461.5,120.65 L461.9,120.69 L462.1,120.72 L462.5,120.75 L462.5,121.85 L462.1,121.88 L461.9,121.91 L461.5,121.95 L461.0,121.98 L460.0,122.00 L459.7,122.00 L459.3,122.01 L458.9,122.01 L458.5,122.02 L458.0,122.02 L457.6,122.03 L457.1,122.03 L456.5,122.04 L456.0,122.04 L455.5,122.04 L454.9,122.05 L454.4,122.05 L453.8,122.05 L453.2,122.05 L452.7,122.05 L452.1,122.05 L451.6,122.05 L451.0,122.05 L450.5,122.05 L450.0,122.05 L449.5,122.05 L449.0,122.04 L448.5,122.04 L448.0,122.03 L447.5,122.03 L447.0,122.02 L446.5,122.01 L446.0,122.00 L445.5,122.00 L445.0,121.99 L444.5,121.98 L444.0,121.97 L443.5,121.96 L443.0,121.95 L442.5,121.94 L442.0,121.93 L441.5,121.92 L441.0,121.92 L440.5,121.91 L440.0,121.90 L439.5,121.89 L439.1,121.88 L438.6,121.88 L438.2,121.87 L437.8,121.86 L437.4,121.85 L437.1,121.84 L436.7,121.83 L436.3,121.82 L435.9,121.82 L435.5,121.81 L435.0,121.80 L434.5,121.79 L434.0,121.78 L433.5,121.78 L432.9,121.77 L432.3,121.76 L431.6,121.76 L430.8,121.75 L430.0,121.75 L429.6,121.75 L429.3,121.75 L428.9,121.74 L428.4,121.74 L428.0,121.74 L427.6,121.74 L427.1,121.74 L426.6,121.73 L426.1,121.73 L425.6,121.73 L425.1,121.73 L424.6,121.73 L424.1,121.72 L423.5,121.72 L423.0,121.72 L422.4,121.72 L421.9,121.72 L421.3,121.71 L420.8,121.71 L420.2,121.71 L419.6,121.71 L419.0,121.71 L418.5,121.71 L417.9,121.71 L417.3,121.71 L416.7,121.70 L416.1,121.70 L415.6,121.70 L415.0,121.70 L414.4,121.70 L413.9,121.70 L413.3,121.70 L412.8,121.70 L412.3,121.71 L411.7,121.71 L411.2,121.71 L410.7,121.71 L410.2,121.71 L409.7,121.71 L409.2,121.72 L408.8,121.72 L408.3,121.72 L407.9,121.73 L407.5,121.73 L407.1,121.73 L406.7,121.74 L406.3,121.74 L406.0,121.75 L405.1,121.77 L404.2,121.79 L403.5,121.82 L402.9,121.84 L402.3,121.87 L401.8,121.90 L401.4,121.94 L401.0,121.97 L400.6,122.01 L400.3,122.05 L400.0,122.09 L399.6,122.13 L399.3,122.17 L398.9,122.22 L398.5,122.26 L398.0,122.30 L397.5,122.34 L397.0,122.39 L396.5,122.43 L396.0,122.48 L395.6,122.52 L395.1,122.57 L394.6,122.62 L394.1,122.67 L393.6,122.72 L393.1,122.77 L392.6,122.83 L392.1,122.88 L391.6,122.93 L391.1,122.99 L390.5,123.04 L390.0,123.10 L389.5,123.15 L389.1,123.20 L388.6,123.25 L388.2,123.30 L387.7,123.35 L387.2,123.40 L386.7,123.46 L386.3,123.51 L385.8,123.57 L385.3,123.62 L384.8,123.68 L384.3,123.73 L383.8,123.78 L383.3,123.84 L382.7,123.89 L382.2,123.95 L381.6,124.00 L381.1,124.05 L380.5,124.10 L380.1,124.14 L379.6,124.18 L379.1,124.22 L378.7,124.26 L378.2,124.30 L377.7,124.34 L377.2,124.38 L376.8,124.42 L376.3,124.46 L375.8,124.50 L375.3,124.54 L374.7,124.57 L374.2,124.61 L373.7,124.65 L373.2,124.69 L372.7,124.72 L372.2,124.76 L371.6,124.79 L371.1,124.83 L370.6,124.86 L370.1,124.89 L369.6,124.92 L369.0,124.95 L368.5,124.98 L368.0,125.00 L367.5,125.02 L367.0,125.04 L366.5,125.06 L365.9,125.08 L365.4,125.10 L364.9,125.12 L364.4,125.14 L363.8,125.15 L363.3,125.17 L362.7,125.18 L362.2,125.19 L361.7,125.21 L361.1,125.22 L360.6,125.23 L360.0,125.24 L359.5,125.25 L359.0,125.26 L358.5,125.26 L358.0,125.27 L357.5,125.28 L357.0,125.28 L356.5,125.29 L356.0,125.29 L355.5,125.29 L355.0,125.30 L354.6,125.30 L354.0,125.30 L353.5,125.30 L352.9,125.30 L352.4,125.30 L351.9,125.29 L351.5,125.29 L351.0,125.28 L350.6,125.27 L350.1,125.26 L349.7,125.25 L349.2,125.24 L348.8,125.22 L348.3,125.21 L347.8,125.19 L347.3,125.18 L346.8,125.16 L346.2,125.14 L345.6,125.12 L345.0,125.10 L344.6,125.09 L344.2,125.07 L343.7,125.05 L343.3,125.03 L342.8,125.01 L342.3,124.99 L341.8,124.96 L341.4,124.94 L340.9,124.91 L340.4,124.89 L339.9,124.86 L339.3,124.84 L338.8,124.81 L338.3,124.78 L337.8,124.76 L337.2,124.73 L336.7,124.70 L336.2,124.68 L335.7,124.66 L335.1,124.63 L334.6,124.61 L334.1,124.59 L333.5,124.57 L333.0,124.56 L332.5,124.54 L332.0,124.53 L331.5,124.52 L331.0,124.51 L330.5,124.50 L330.0,124.50 L329.5,124.50 L328.9,124.50 L328.4,124.51 L327.9,124.52 L327.3,124.53 L326.7,124.54 L326.2,124.55 L325.6,124.57 L325.1,124.59 L324.5,124.61 L323.9,124.63 L323.4,124.65 L322.8,124.67 L322.3,124.69 L321.8,124.72 L321.2,124.74 L320.7,124.77 L320.2,124.79 L319.7,124.82 L319.2,124.84 L318.8,124.86 L318.3,124.89 L317.9,124.91 L317.5,124.93 L317.1,124.95 L316.7,124.97 L316.3,124.98 L316.0,125.00 L315.0,125.04 L314.3,125.07 L313.9,125.09 L313.6,125.11 L313.3,125.15 L312.9,125.21 L312.3,125.30 L311.9,125.36 L311.5,125.43 L311.0,125.50 L310.5,125.57 L310.0,125.65 L309.5,125.74 L308.9,125.83 L308.4,125.93 L307.8,126.03 L307.2,126.13 L306.7,126.24 L306.1,126.36 L305.5,126.48 L305.0,126.60 L304.5,126.72 L304.0,126.86 L303.4,127.00 L302.9,127.15 L302.4,127.30 L301.8,127.46 L301.3,127.62 L300.8,127.78 L300.2,127.94 L299.7,128.10 L299.2,128.25 L298.6,128.40 L298.1,128.54 L297.6,128.68 L297.1,128.80 L296.6,128.92 L296.0,129.04 L295.5,129.15 L295.0,129.26 L294.5,129.36 L294.0,129.46 L293.5,129.55 L293.0,129.64 L292.5,129.72 L292.0,129.81 L291.5,129.88 L291.0,129.96 L290.5,130.03 L290.0,130.10 L289.5,130.17 L288.9,130.24 L288.4,130.31 L287.9,130.37 L287.3,130.43 L286.8,130.48 L286.3,130.53 L285.8,130.57 L285.3,130.61 L284.8,130.64 L284.3,130.67 L283.8,130.69 L283.3,130.70 L282.8,130.70 L282.3,130.70 L281.9,130.68 L281.4,130.66 L281.0,130.63 L280.6,130.59 L280.1,130.54 L279.6,130.49 L279.1,130.43 L278.4,130.37 L277.7,130.30 L277.3,130.27 L276.9,130.23 L276.4,130.19 L276.0,130.15 L275.5,130.11 L275.0,130.07 L274.5,130.03 L273.9,129.98 L273.4,129.93 L272.8,129.89 L272.3,129.84 L271.7,129.79 L271.2,129.74 L270.6,129.68 L270.0,129.63 L269.5,129.58 L268.9,129.53 L268.4,129.47 L267.9,129.42 L267.4,129.36 L266.9,129.31 L266.4,129.25 L266.0,129.20 L265.4,129.12 L264.8,129.04 L264.3,128.95 L263.7,128.86 L263.2,128.77 L262.7,128.68 L262.2,128.59 L261.7,128.49 L261.3,128.40 L260.8,128.31 L260.3,128.22 L259.9,128.13 L259.4,128.04 L259.0,127.96 L258.5,127.88 L258.0,127.80 L257.5,127.72 L257.0,127.64 L256.5,127.56 L256.0,127.48 L255.5,127.40 L255.1,127.33 L254.6,127.25 L254.1,127.18 L253.6,127.11 L253.1,127.05 L252.6,126.99 L252.1,126.93 L251.6,126.88 L251.0,126.84 L250.4,126.80 L250.0,126.78 L249.5,126.76 L249.1,126.74 L248.6,126.73 L248.1,126.72 L247.7,126.71 L247.2,126.71 L246.7,126.71 L246.3,126.71 L245.8,126.71 L245.3,126.71 L244.7,126.72 L244.2,126.72 L243.7,126.73 L243.1,126.73 L242.5,126.74 L241.9,126.74 L241.3,126.75 L240.7,126.75 L240.0,126.75 L239.6,126.75 L239.1,126.75 L238.7,126.75 L238.2,126.75 L237.7,126.76 L237.2,126.76 L236.7,126.76 L236.2,126.76 L235.7,126.77 L235.1,126.77 L234.6,126.77 L234.0,126.78 L233.5,126.78 L232.9,126.78 L232.4,126.79 L231.8,126.79 L231.2,126.79 L230.7,126.80 L230.1,126.80 L229.6,126.80 L229.0,126.80 L228.5,126.81 L228.0,126.81 L227.4,126.81 L226.9,126.81 L226.4,126.81 L225.9,126.81 L225.5,126.81 L225.0,126.81 L224.6,126.81 L224.2,126.81 L223.8,126.80 L223.4,126.80 L222.6,126.79 L221.9,126.77 L221.2,126.76 L220.6,126.74 L220.0,126.71 L219.5,126.69 L219.1,126.67 L218.6,126.64 L218.2,126.61 L217.8,126.59 L217.4,126.56 L216.9,126.54 L216.5,126.52 L216.0,126.50 L215.5,126.48 L215.0,126.45 L214.4,126.43 L213.9,126.40 L213.5,126.37 L213.0,126.35 L212.5,126.33 L212.0,126.31 L211.5,126.29 L211.0,126.28 L210.5,126.28 L210.0,126.29 L209.5,126.30 L209.0,126.33 L208.5,126.37 L208.0,126.41 L207.6,126.47 L207.1,126.54 L206.6,126.60 L206.1,126.67 L205.6,126.74 L205.1,126.81 L204.5,126.87 L203.9,126.92 L203.3,126.97 L202.6,127.00 L202.2,127.01 L201.7,127.03 L201.3,127.04 L200.8,127.04 L200.3,127.05 L199.7,127.05 L199.2,127.06 L198.7,127.06 L198.1,127.06 L197.5,127.06 L197.0,127.06 L196.4,127.05 L195.8,127.05 L195.3,127.05 L194.7,127.04 L194.2,127.04 L193.7,127.03 L193.2,127.03 L192.7,127.02 L192.2,127.02 L191.8,127.01 L191.4,127.00 L191.0,127.00 L190.2,126.99 L189.6,126.98 L189.1,126.97 L188.6,126.95 L188.2,126.93 L187.8,126.91 L187.4,126.89 L187.0,126.87 L186.5,126.84 L186.0,126.80 L185.5,126.77 L185.1,126.74 L184.6,126.70 L184.1,126.66 L183.6,126.62 L183.1,126.58 L182.6,126.53 L182.0,126.48 L181.5,126.44 L181.0,126.39 L180.5,126.34 L180.0,126.30 L179.5,126.25 L179.0,126.20 L178.4,126.14 L177.8,126.09 L177.2,126.03 L176.6,125.97 L176.0,125.91 L175.5,125.85 L174.9,125.79 L174.4,125.74 L174.0,125.69 L173.6,125.64 L173.3,125.60 L172.7,125.45 L172.9,125.35Z" fill="#fff" stroke="#000" stroke-width="1.35" stroke-linejoin="round"/>
<line x1="224.00" y1="116.20" x2="224.00" y2="126.40" stroke="#39568c" stroke-width="1.2"/>
<line x1="277.70" y1="112.70" x2="277.70" y2="129.90" stroke="#b71c48" stroke-width="1.4"/>
<line x1="312.30" y1="117.70" x2="312.30" y2="124.90" stroke="#39568c" stroke-width="1.2"/>
<path d="M166.5,147.90 L167.0,147.47 L167.4,147.04 L167.9,146.62 L168.5,146.20 L168.9,145.92 L169.4,145.64 L169.9,145.37 L170.5,145.10 L171.1,144.84 L171.7,144.60 L172.2,144.45 L172.7,144.29 L173.2,144.14 L173.8,144.00 L174.4,143.86 L175.0,143.73 L175.5,143.61 L176.0,143.50 L176.5,143.40 L177.1,143.28 L177.7,143.19 L178.2,143.12 L178.6,143.06 L179.2,142.99 L179.7,142.90 L180.2,142.79 L180.7,142.67 L181.2,142.54 L181.8,142.40 L182.3,142.28 L182.9,142.17 L183.5,142.10 L184.0,142.06 L184.5,142.04 L185.0,142.03 L185.5,142.02 L186.0,142.03 L186.5,142.04 L187.0,142.06 L187.5,142.08 L188.0,142.10 L188.6,142.12 L189.1,142.15 L189.7,142.18 L190.3,142.21 L190.8,142.26 L191.4,142.32 L191.9,142.40 L192.4,142.50 L193.0,142.67 L193.5,142.89 L194.0,143.12 L194.5,143.38 L195.0,143.64 L195.5,143.90 L196.0,144.17 L196.6,144.47 L197.1,144.77 L197.6,145.06 L198.2,145.31 L198.7,145.50 L199.2,145.63 L199.8,145.70 L200.3,145.74 L200.8,145.76 L201.4,145.77 L202.0,145.80 L202.5,145.83 L203.0,145.85 L203.5,145.86 L204.0,145.88 L204.5,145.90 L205.1,145.92 L205.5,145.96 L206.0,146.00 L206.5,146.07 L207.0,146.15 L207.5,146.24 L208.0,146.35 L208.5,146.47 L209.0,146.60 L209.4,146.71 L209.9,146.82 L210.4,146.94 L210.9,147.07 L211.4,147.21 L211.9,147.36 L212.4,147.52 L213.0,147.70 L213.5,147.86 L213.9,148.04 L214.4,148.22 L214.9,148.42 L215.4,148.62 L215.9,148.83 L216.4,149.03 L217.0,149.23 L217.5,149.42 L218.0,149.60 L218.5,149.76 L219.0,149.92 L219.5,150.09 L220.1,150.25 L220.6,150.41 L221.2,150.56 L221.7,150.70 L222.2,150.83 L222.7,150.94 L223.1,151.03 L223.5,151.10 L224.2,151.16 L224.6,151.12 L225.0,151.02 L225.5,150.92 L226.0,150.85 L226.4,150.83 L226.9,150.82 L227.4,150.81 L227.9,150.80 L228.4,150.79 L229.0,150.79 L229.5,150.79 L230.0,150.80 L230.5,150.81 L231.0,150.83 L231.5,150.86 L232.0,150.88 L232.6,150.91 L233.0,150.94 L233.5,150.97 L234.0,151.00 L234.5,151.03 L235.0,151.07 L235.4,151.10 L235.9,151.14 L236.5,151.17 L237.3,151.20 L237.7,151.21 L238.1,151.22 L238.4,151.24 L238.8,151.25 L239.3,151.26 L239.7,151.27 L240.2,151.28 L240.7,151.29 L241.2,151.30 L241.7,151.31 L242.3,151.32 L242.9,151.33 L243.6,151.34 L244.3,151.34 L245.0,151.35 L245.4,151.35 L245.8,151.35 L246.2,151.36 L246.6,151.36 L247.0,151.36 L247.5,151.36 L247.9,151.36 L248.4,151.36 L248.9,151.36 L249.3,151.36 L249.8,151.36 L250.3,151.36 L250.8,151.36 L251.3,151.36 L251.8,151.36 L252.3,151.36 L252.9,151.36 L253.4,151.36 L253.9,151.36 L254.5,151.36 L255.0,151.36 L255.6,151.36 L256.1,151.36 L256.7,151.36 L257.2,151.35 L257.8,151.35 L258.3,151.35 L258.9,151.35 L259.4,151.35 L260.0,151.35 L260.5,151.35 L260.9,151.35 L261.4,151.35 L261.9,151.35 L262.5,151.35 L263.0,151.35 L263.5,151.35 L264.1,151.35 L264.6,151.35 L265.2,151.35 L265.8,151.35 L266.3,151.35 L266.9,151.35 L267.5,151.35 L268.1,151.35 L268.6,151.35 L269.2,151.35 L269.8,151.35 L270.4,151.35 L270.9,151.35 L271.5,151.35 L272.0,151.35 L272.6,151.35 L273.1,151.35 L273.6,151.34 L274.1,151.34 L274.6,151.34 L275.1,151.34 L275.5,151.33 L276.0,151.33 L276.4,151.33 L276.8,151.32 L277.2,151.32 L277.6,151.32 L277.9,151.31 L278.2,151.31 L278.5,151.30 L280.3,151.19 L280.3,151.04 L280.3,150.90 L280.8,150.79 L281.3,150.69 L281.8,150.65 L282.6,150.73 L283.2,150.90 L283.6,151.09 L283.9,151.30 L283.9,151.70 L283.6,151.91 L283.2,152.10 L282.6,152.27 L281.8,152.35 L281.3,152.31 L280.8,152.21 L280.3,152.10 L280.3,151.96 L280.3,151.81 L278.5,151.70 L278.2,151.69 L277.9,151.69 L277.6,151.68 L277.2,151.68 L276.8,151.68 L276.4,151.67 L276.0,151.67 L275.5,151.67 L275.1,151.66 L274.6,151.66 L274.1,151.66 L273.6,151.66 L273.1,151.65 L272.6,151.65 L272.0,151.65 L271.5,151.65 L270.9,151.65 L270.4,151.65 L269.8,151.65 L269.2,151.65 L268.6,151.65 L268.1,151.65 L267.5,151.65 L266.9,151.65 L266.3,151.65 L265.8,151.65 L265.2,151.65 L264.6,151.65 L264.1,151.65 L263.5,151.65 L263.0,151.65 L262.5,151.65 L261.9,151.65 L261.4,151.65 L260.9,151.65 L260.5,151.65 L260.0,151.65 L259.4,151.65 L258.9,151.65 L258.3,151.65 L257.8,151.65 L257.2,151.65 L256.7,151.64 L256.1,151.64 L255.6,151.64 L255.0,151.64 L254.5,151.64 L253.9,151.64 L253.4,151.64 L252.9,151.64 L252.3,151.64 L251.8,151.64 L251.3,151.64 L250.8,151.64 L250.3,151.64 L249.8,151.64 L249.3,151.64 L248.9,151.64 L248.4,151.64 L247.9,151.64 L247.5,151.64 L247.0,151.64 L246.6,151.64 L246.2,151.64 L245.8,151.65 L245.4,151.65 L245.0,151.65 L244.3,151.66 L243.6,151.66 L242.9,151.67 L242.3,151.68 L241.7,151.69 L241.2,151.70 L240.7,151.71 L240.2,151.72 L239.7,151.73 L239.3,151.74 L238.8,151.75 L238.4,151.76 L238.1,151.78 L237.7,151.79 L237.3,151.80 L236.5,151.83 L235.9,151.86 L235.4,151.90 L235.0,151.93 L234.5,151.97 L234.0,152.00 L233.5,152.03 L233.0,152.06 L232.6,152.09 L232.0,152.12 L231.5,152.14 L231.0,152.17 L230.5,152.19 L230.0,152.20 L229.5,152.21 L229.0,152.21 L228.4,152.21 L227.9,152.20 L227.4,152.19 L226.9,152.18 L226.4,152.17 L226.0,152.15 L225.5,152.08 L225.0,151.98 L224.6,151.88 L224.2,151.84 L223.5,151.90 L223.1,151.97 L222.7,152.06 L222.2,152.17 L221.7,152.30 L221.2,152.44 L220.6,152.59 L220.1,152.75 L219.5,152.91 L219.0,153.08 L218.5,153.24 L218.0,153.40 L217.5,153.58 L217.0,153.77 L216.4,153.97 L215.9,154.17 L215.4,154.38 L214.9,154.58 L214.4,154.78 L213.9,154.96 L213.5,155.14 L213.0,155.30 L212.4,155.48 L211.9,155.64 L211.4,155.79 L210.9,155.93 L210.4,156.06 L209.9,156.18 L209.4,156.29 L209.0,156.40 L208.5,156.53 L208.0,156.65 L207.5,156.76 L207.0,156.85 L206.5,156.93 L206.0,157.00 L205.5,157.04 L205.1,157.08 L204.5,157.10 L204.0,157.12 L203.5,157.14 L203.0,157.15 L202.5,157.17 L202.0,157.20 L201.4,157.23 L200.8,157.24 L200.3,157.26 L199.8,157.30 L199.2,157.37 L198.7,157.50 L198.2,157.69 L197.6,157.94 L197.1,158.23 L196.6,158.53 L196.0,158.83 L195.5,159.10 L195.0,159.36 L194.5,159.62 L194.0,159.88 L193.5,160.11 L193.0,160.33 L192.4,160.50 L191.9,160.60 L191.4,160.68 L190.8,160.74 L190.3,160.79 L189.7,160.82 L189.1,160.85 L188.6,160.88 L188.0,160.90 L187.5,160.92 L187.0,160.94 L186.5,160.96 L186.0,160.97 L185.5,160.98 L185.0,160.97 L184.5,160.96 L184.0,160.94 L183.5,160.90 L182.9,160.83 L182.3,160.72 L181.8,160.60 L181.2,160.46 L180.7,160.33 L180.2,160.21 L179.7,160.10 L179.2,160.01 L178.6,159.94 L178.2,159.88 L177.7,159.81 L177.1,159.72 L176.5,159.60 L176.0,159.50 L175.5,159.39 L175.0,159.27 L174.4,159.14 L173.8,159.00 L173.2,158.86 L172.7,158.71 L172.2,158.55 L171.7,158.40 L171.1,158.16 L170.5,157.90 L169.9,157.63 L169.4,157.36 L168.9,157.08 L168.5,156.80 L167.9,156.38 L167.4,155.96 L167.0,155.53 L166.5,155.10Z" fill="#fff" stroke="#000" stroke-width="1.35" stroke-linejoin="round"/>
<line x1="179.70" y1="143.30" x2="179.70" y2="159.70" stroke="#39568c" stroke-width="1.2"/>
<line x1="189.80" y1="142.58" x2="189.80" y2="160.42" stroke="#b71c48" stroke-width="1.5"/>
<line x1="203.00" y1="146.25" x2="203.00" y2="156.75" stroke="#39568c" stroke-width="1.3"/>
<path d="M182.8,179.25 L182.5,179.14 L183.2,178.85 L183.5,178.77 L183.9,178.69 L184.3,178.59 L184.7,178.49 L185.2,178.39 L185.7,178.27 L186.3,178.16 L186.9,178.03 L187.4,177.90 L188.0,177.77 L188.6,177.63 L189.2,177.49 L189.8,177.35 L190.4,177.20 L190.9,177.05 L191.4,176.90 L191.9,176.75 L192.4,176.58 L193.0,176.41 L193.5,176.24 L194.0,176.06 L194.6,175.87 L195.1,175.69 L195.6,175.50 L196.1,175.32 L196.7,175.14 L197.2,174.97 L197.6,174.80 L198.1,174.64 L198.6,174.49 L199.0,174.35 L199.7,174.14 L200.3,173.94 L200.9,173.75 L201.5,173.56 L202.1,173.39 L202.6,173.24 L203.1,173.09 L203.6,172.96 L204.0,172.85 L204.4,172.75 L205.1,172.60 L205.6,172.56 L206.1,172.56 L206.7,172.55 L207.1,172.53 L207.7,172.50 L208.2,172.47 L208.8,172.44 L209.4,172.42 L210.0,172.40 L210.5,172.39 L211.1,172.40 L211.6,172.42 L212.2,172.44 L212.7,172.47 L213.3,172.51 L213.8,172.56 L214.4,172.61 L214.9,172.68 L215.5,172.75 L216.0,172.82 L216.4,172.89 L216.9,172.97 L217.4,173.06 L217.9,173.15 L218.4,173.24 L218.9,173.34 L219.4,173.44 L220.0,173.55 L220.5,173.65 L221.0,173.75 L221.5,173.85 L222.0,173.95 L222.5,174.06 L223.0,174.16 L223.6,174.27 L224.1,174.39 L224.6,174.50 L225.2,174.62 L225.7,174.73 L226.3,174.85 L226.8,174.95 L227.3,175.06 L227.8,175.16 L228.2,175.27 L228.7,175.38 L229.2,175.49 L229.8,175.61 L230.3,175.72 L230.8,175.83 L231.3,175.94 L231.9,176.04 L232.4,176.15 L233.0,176.25 L233.5,176.33 L233.9,176.41 L234.4,176.50 L234.9,176.58 L235.3,176.66 L235.8,176.75 L236.3,176.83 L236.8,176.91 L237.3,176.98 L237.8,177.06 L238.3,177.13 L238.9,177.20 L239.4,177.27 L240.0,177.33 L240.6,177.39 L241.2,177.45 L241.6,177.49 L242.1,177.52 L242.6,177.55 L243.0,177.57 L243.5,177.59 L244.0,177.62 L244.5,177.63 L245.0,177.65 L245.5,177.67 L246.0,177.68 L246.6,177.70 L247.1,177.71 L247.6,177.73 L248.2,177.74 L248.7,177.76 L249.2,177.78 L249.8,177.79 L250.3,177.81 L250.9,177.84 L251.4,177.86 L251.9,177.89 L252.5,177.92 L253.0,177.95 L253.5,177.98 L254.0,178.02 L254.5,178.06 L255.0,178.10 L255.5,178.15 L256.0,178.19 L256.5,178.24 L257.1,178.29 L257.6,178.34 L258.1,178.39 L258.6,178.44 L259.1,178.49 L259.6,178.55 L260.1,178.60 L260.7,178.65 L261.2,178.70 L261.7,178.75 L262.2,178.80 L262.7,178.84 L263.3,178.89 L263.8,178.93 L264.3,178.97 L264.9,179.01 L265.4,179.05 L265.9,179.08 L266.4,179.11 L266.9,179.14 L267.4,179.17 L267.9,179.20 L268.4,179.22 L268.9,179.24 L269.4,179.27 L270.0,179.29 L270.5,179.31 L271.0,179.33 L271.5,179.35 L272.0,179.38 L272.6,179.40 L273.1,179.41 L273.6,179.43 L274.1,179.45 L274.6,179.47 L275.2,179.49 L275.7,179.51 L276.2,179.54 L276.7,179.56 L277.2,179.58 L277.8,179.60 L278.3,179.63 L278.8,179.65 L279.3,179.67 L279.8,179.70 L280.3,179.72 L280.8,179.75 L281.3,179.77 L281.9,179.79 L282.4,179.82 L282.9,179.84 L283.4,179.87 L284.0,179.89 L284.5,179.92 L285.0,179.94 L285.5,179.97 L286.0,179.99 L286.6,180.02 L287.1,180.05 L287.6,180.07 L288.1,180.10 L288.6,180.12 L289.1,180.15 L289.6,180.18 L290.0,180.21 L290.5,180.23 L291.0,180.26 L291.4,180.29 L291.9,180.32 L292.3,180.35 L292.9,180.39 L293.4,180.44 L294.0,180.49 L294.4,180.54 L294.9,180.59 L295.4,180.65 L295.8,180.70 L296.2,180.76 L296.7,180.81 L297.1,180.87 L297.5,180.92 L298.0,180.97 L298.5,181.02 L299.0,181.07 L299.5,181.11 L300.0,181.15 L300.6,181.19 L301.3,181.22 L302.0,181.25 L302.4,181.26 L302.8,181.27 L303.2,181.28 L303.7,181.29 L304.1,181.30 L304.6,181.31 L305.0,181.31 L305.5,181.32 L306.0,181.32 L306.5,181.33 L307.0,181.33 L307.5,181.33 L308.0,181.33 L308.5,181.33 L309.1,181.33 L309.6,181.33 L310.1,181.33 L310.7,181.33 L311.2,181.33 L311.8,181.33 L312.3,181.33 L312.8,181.32 L313.4,181.32 L313.9,181.32 L314.5,181.32 L315.0,181.31 L315.5,181.31 L316.0,181.31 L316.6,181.31 L317.1,181.30 L317.6,181.30 L318.1,181.30 L318.6,181.30 L319.1,181.30 L319.5,181.30 L320.0,181.30 L320.6,181.30 L321.1,181.30 L321.7,181.30 L322.2,181.30 L322.8,181.31 L323.3,181.31 L323.9,181.31 L324.4,181.31 L324.9,181.31 L325.5,181.31 L326.0,181.31 L326.6,181.31 L327.1,181.31 L327.6,181.31 L328.1,181.32 L328.6,181.32 L329.1,181.32 L329.6,181.32 L330.1,181.32 L330.6,181.32 L331.1,181.32 L331.6,181.32 L332.0,181.31 L332.5,181.31 L332.9,181.31 L333.4,181.31 L333.8,181.31 L334.2,181.31 L334.6,181.30 L335.0,181.30 L335.7,181.29 L336.3,181.28 L336.9,181.27 L337.5,181.25 L338.1,181.24 L338.6,181.22 L339.0,181.20 L339.5,181.19 L339.9,181.17 L340.4,181.15 L340.8,181.14 L341.2,181.13 L341.7,181.12 L342.1,181.11 L342.5,181.10 L343.0,181.10 L343.5,181.10 L343.9,181.11 L344.3,181.12 L344.7,181.13 L345.0,181.15 L345.4,181.17 L345.8,181.19 L346.1,181.21 L346.6,181.23 L347.1,181.25 L347.7,181.26 L348.3,181.28 L349.1,181.29 L350.0,181.30 L350.3,181.30 L350.7,181.30 L351.1,181.31 L351.5,181.31 L352.0,181.31 L352.4,181.31 L352.9,181.31 L353.4,181.32 L353.9,181.32 L354.4,181.32 L354.9,181.32 L355.4,181.32 L356.0,181.32 L356.5,181.32 L357.1,181.32 L357.6,181.32 L358.2,181.32 L358.8,181.32 L359.4,181.32 L359.9,181.32 L360.5,181.32 L361.1,181.32 L361.7,181.32 L362.2,181.32 L362.8,181.32 L363.4,181.32 L363.9,181.32 L364.5,181.32 L365.0,181.32 L365.5,181.32 L366.1,181.32 L366.6,181.32 L367.1,181.31 L367.5,181.31 L368.0,181.31 L368.4,181.31 L368.9,181.31 L369.3,181.30 L369.6,181.30 L370.0,181.30 L370.8,181.29 L371.6,181.28 L372.2,181.27 L372.8,181.25 L373.4,181.24 L373.9,181.22 L374.3,181.20 L374.8,181.19 L375.1,181.17 L375.5,181.15 L375.9,181.14 L376.3,181.13 L376.7,181.12 L377.1,181.11 L377.5,181.10 L378.0,181.10 L378.5,181.10 L378.8,181.11 L379.1,181.12 L379.4,181.13 L379.6,181.14 L379.9,181.15 L380.1,181.17 L380.4,181.19 L380.7,181.20 L381.1,181.22 L381.6,181.24 L382.2,181.25 L382.9,181.27 L383.8,181.28 L384.8,181.29 L386.0,181.30 L386.3,181.30 L386.7,181.30 L387.0,181.30 L387.4,181.31 L387.8,181.31 L388.2,181.31 L388.6,181.31 L389.0,181.31 L389.4,181.31 L389.9,181.31 L390.4,181.31 L390.8,181.31 L391.3,181.31 L391.8,181.32 L392.3,181.32 L392.8,181.32 L393.4,181.32 L393.9,181.32 L394.5,181.32 L395.0,181.32 L395.6,181.32 L396.1,181.32 L396.7,181.32 L397.3,181.32 L397.9,181.32 L398.5,181.32 L399.0,181.32 L399.6,181.32 L400.2,181.32 L400.8,181.32 L401.4,181.32 L402.0,181.32 L402.6,181.32 L403.2,181.32 L403.9,181.32 L404.5,181.32 L405.1,181.32 L405.7,181.32 L406.2,181.32 L406.8,181.32 L407.4,181.32 L408.0,181.32 L408.6,181.32 L409.2,181.32 L409.7,181.32 L410.3,181.32 L410.9,181.32 L411.4,181.32 L411.9,181.32 L412.5,181.32 L413.0,181.32 L413.5,181.31 L414.0,181.31 L414.5,181.31 L415.0,181.31 L415.5,181.31 L415.9,181.31 L416.4,181.31 L416.8,181.31 L417.2,181.31 L417.6,181.31 L418.0,181.31 L418.4,181.31 L418.7,181.30 L419.1,181.30 L419.4,181.30 L419.7,181.30 L420.0,181.30 L421.9,181.29 L423.1,181.27 L423.6,181.25 L423.8,181.22 L423.7,181.20 L423.6,181.18 L423.6,181.16 L424.0,181.15 L424.4,181.15 L424.9,181.15 L425.4,181.15 L425.9,181.15 L426.4,181.16 L426.9,181.17 L427.4,181.17 L428.0,181.18 L428.5,181.19 L429.0,181.19 L429.5,181.20 L429.5,182.30 L429.0,182.31 L428.5,182.31 L428.0,182.32 L427.4,182.33 L426.9,182.33 L426.4,182.34 L425.9,182.35 L425.4,182.35 L424.9,182.35 L424.4,182.35 L424.0,182.35 L423.6,182.34 L423.6,182.32 L423.7,182.30 L423.8,182.28 L423.6,182.25 L423.1,182.23 L421.9,182.21 L420.0,182.20 L419.7,182.20 L419.4,182.20 L419.1,182.20 L418.7,182.20 L418.4,182.19 L418.0,182.19 L417.6,182.19 L417.2,182.19 L416.8,182.19 L416.4,182.19 L415.9,182.19 L415.5,182.19 L415.0,182.19 L414.5,182.19 L414.0,182.19 L413.5,182.19 L413.0,182.18 L412.5,182.18 L411.9,182.18 L411.4,182.18 L410.9,182.18 L410.3,182.18 L409.7,182.18 L409.2,182.18 L408.6,182.18 L408.0,182.18 L407.4,182.18 L406.8,182.18 L406.2,182.18 L405.7,182.18 L405.1,182.18 L404.5,182.18 L403.9,182.18 L403.2,182.18 L402.6,182.18 L402.0,182.18 L401.4,182.18 L400.8,182.18 L400.2,182.18 L399.6,182.18 L399.0,182.18 L398.5,182.18 L397.9,182.18 L397.3,182.18 L396.7,182.18 L396.1,182.18 L395.6,182.18 L395.0,182.18 L394.5,182.18 L393.9,182.18 L393.4,182.18 L392.8,182.18 L392.3,182.18 L391.8,182.18 L391.3,182.19 L390.8,182.19 L390.4,182.19 L389.9,182.19 L389.4,182.19 L389.0,182.19 L388.6,182.19 L388.2,182.19 L387.8,182.19 L387.4,182.19 L387.0,182.20 L386.7,182.20 L386.3,182.20 L386.0,182.20 L384.8,182.21 L383.8,182.22 L382.9,182.23 L382.2,182.25 L381.6,182.26 L381.1,182.28 L380.7,182.30 L380.4,182.31 L380.1,182.33 L379.9,182.35 L379.6,182.36 L379.4,182.37 L379.1,182.38 L378.8,182.39 L378.5,182.40 L378.0,182.40 L377.5,182.40 L377.1,182.39 L376.7,182.38 L376.3,182.37 L375.9,182.36 L375.5,182.35 L375.1,182.33 L374.8,182.31 L374.3,182.30 L373.9,182.28 L373.4,182.26 L372.8,182.25 L372.2,182.23 L371.6,182.22 L370.8,182.21 L370.0,182.20 L369.6,182.20 L369.3,182.20 L368.9,182.19 L368.4,182.19 L368.0,182.19 L367.5,182.19 L367.1,182.19 L366.6,182.18 L366.1,182.18 L365.5,182.18 L365.0,182.18 L364.5,182.18 L363.9,182.18 L363.4,182.18 L362.8,182.18 L362.2,182.18 L361.7,182.18 L361.1,182.18 L360.5,182.18 L359.9,182.18 L359.4,182.18 L358.8,182.18 L358.2,182.18 L357.6,182.18 L357.1,182.18 L356.5,182.18 L356.0,182.18 L355.4,182.18 L354.9,182.18 L354.4,182.18 L353.9,182.18 L353.4,182.18 L352.9,182.19 L352.4,182.19 L352.0,182.19 L351.5,182.19 L351.1,182.19 L350.7,182.20 L350.3,182.20 L350.0,182.20 L349.1,182.21 L348.3,182.22 L347.7,182.24 L347.1,182.25 L346.6,182.27 L346.1,182.29 L345.8,182.31 L345.4,182.33 L345.0,182.35 L344.7,182.37 L344.3,182.38 L343.9,182.39 L343.5,182.40 L343.0,182.40 L342.5,182.40 L342.1,182.39 L341.7,182.38 L341.2,182.37 L340.8,182.36 L340.4,182.35 L339.9,182.33 L339.5,182.31 L339.0,182.30 L338.6,182.28 L338.1,182.26 L337.5,182.25 L336.9,182.23 L336.3,182.22 L335.7,182.21 L335.0,182.20 L334.6,182.20 L334.2,182.19 L333.8,182.19 L333.4,182.19 L332.9,182.19 L332.5,182.19 L332.0,182.19 L331.6,182.18 L331.1,182.18 L330.6,182.18 L330.1,182.18 L329.6,182.18 L329.1,182.18 L328.6,182.18 L328.1,182.18 L327.6,182.19 L327.1,182.19 L326.6,182.19 L326.0,182.19 L325.5,182.19 L324.9,182.19 L324.4,182.19 L323.9,182.19 L323.3,182.19 L322.8,182.19 L322.2,182.20 L321.7,182.20 L321.1,182.20 L320.6,182.20 L320.0,182.20 L319.5,182.20 L319.1,182.20 L318.6,182.20 L318.1,182.20 L317.6,182.20 L317.1,182.20 L316.6,182.19 L316.0,182.19 L315.5,182.19 L315.0,182.19 L314.5,182.18 L313.9,182.18 L313.4,182.18 L312.8,182.18 L312.3,182.17 L311.8,182.17 L311.2,182.17 L310.7,182.17 L310.1,182.17 L309.6,182.17 L309.1,182.17 L308.5,182.17 L308.0,182.17 L307.5,182.17 L307.0,182.17 L306.5,182.17 L306.0,182.18 L305.5,182.18 L305.0,182.19 L304.6,182.19 L304.1,182.20 L303.7,182.21 L303.2,182.22 L302.8,182.23 L302.4,182.24 L302.0,182.25 L301.3,182.28 L300.6,182.31 L300.0,182.35 L299.5,182.39 L299.0,182.43 L298.5,182.48 L298.0,182.53 L297.5,182.58 L297.1,182.63 L296.7,182.69 L296.2,182.74 L295.8,182.80 L295.4,182.85 L294.9,182.91 L294.4,182.96 L294.0,183.01 L293.4,183.06 L292.9,183.11 L292.3,183.15 L291.9,183.18 L291.4,183.21 L291.0,183.24 L290.5,183.27 L290.0,183.29 L289.6,183.32 L289.1,183.35 L288.6,183.38 L288.1,183.40 L287.6,183.43 L287.1,183.45 L286.6,183.48 L286.0,183.51 L285.5,183.53 L285.0,183.56 L284.5,183.58 L284.0,183.61 L283.4,183.63 L282.9,183.66 L282.4,183.68 L281.9,183.71 L281.3,183.73 L280.8,183.75 L280.3,183.78 L279.8,183.80 L279.3,183.83 L278.8,183.85 L278.3,183.87 L277.8,183.90 L277.2,183.92 L276.7,183.94 L276.2,183.96 L275.7,183.99 L275.2,184.01 L274.6,184.03 L274.1,184.05 L273.6,184.07 L273.1,184.09 L272.6,184.10 L272.0,184.12 L271.5,184.15 L271.0,184.17 L270.5,184.19 L270.0,184.21 L269.4,184.23 L268.9,184.26 L268.4,184.28 L267.9,184.30 L267.4,184.33 L266.9,184.36 L266.4,184.39 L265.9,184.42 L265.4,184.45 L264.9,184.49 L264.3,184.53 L263.8,184.57 L263.3,184.61 L262.7,184.66 L262.2,184.70 L261.7,184.75 L261.2,184.80 L260.7,184.85 L260.1,184.90 L259.6,184.95 L259.1,185.01 L258.6,185.06 L258.1,185.11 L257.6,185.16 L257.1,185.21 L256.5,185.26 L256.0,185.31 L255.5,185.35 L255.0,185.40 L254.5,185.44 L254.0,185.48 L253.5,185.52 L253.0,185.55 L252.5,185.58 L251.9,185.61 L251.4,185.64 L250.9,185.66 L250.3,185.69 L249.8,185.71 L249.2,185.72 L248.7,185.74 L248.2,185.76 L247.6,185.77 L247.1,185.79 L246.6,185.80 L246.0,185.82 L245.5,185.83 L245.0,185.85 L244.5,185.87 L244.0,185.88 L243.5,185.91 L243.0,185.93 L242.6,185.95 L242.1,185.98 L241.6,186.01 L241.2,186.05 L240.6,186.11 L240.0,186.17 L239.4,186.23 L238.9,186.30 L238.3,186.37 L237.8,186.44 L237.3,186.52 L236.8,186.59 L236.3,186.67 L235.8,186.75 L235.3,186.84 L234.9,186.92 L234.4,187.00 L233.9,187.09 L233.5,187.17 L233.0,187.25 L232.4,187.35 L231.9,187.46 L231.3,187.56 L230.8,187.67 L230.3,187.78 L229.8,187.89 L229.2,188.01 L228.7,188.12 L228.2,188.23 L227.8,188.34 L227.3,188.44 L226.8,188.55 L226.3,188.65 L225.7,188.77 L225.2,188.88 L224.6,189.00 L224.1,189.11 L223.6,189.23 L223.0,189.34 L222.5,189.44 L222.0,189.55 L221.5,189.65 L221.0,189.75 L220.5,189.85 L220.0,189.95 L219.4,190.06 L218.9,190.16 L218.4,190.26 L217.9,190.35 L217.4,190.44 L216.9,190.53 L216.4,190.61 L216.0,190.68 L215.5,190.75 L214.9,190.82 L214.4,190.89 L213.8,190.94 L213.3,190.99 L212.7,191.03 L212.2,191.06 L211.6,191.08 L211.1,191.10 L210.5,191.11 L210.0,191.10 L209.4,191.08 L208.8,191.06 L208.2,191.03 L207.7,191.00 L207.1,190.97 L206.7,190.95 L206.1,190.94 L205.6,190.94 L205.1,190.90 L204.4,190.75 L204.0,190.65 L203.6,190.54 L203.1,190.41 L202.6,190.26 L202.1,190.11 L201.5,189.94 L200.9,189.75 L200.3,189.56 L199.7,189.36 L199.0,189.15 L198.6,189.01 L198.1,188.86 L197.6,188.70 L197.2,188.53 L196.7,188.36 L196.1,188.18 L195.6,188.00 L195.1,187.81 L194.6,187.63 L194.0,187.44 L193.5,187.26 L193.0,187.09 L192.4,186.92 L191.9,186.75 L191.4,186.60 L190.9,186.45 L190.4,186.30 L189.8,186.15 L189.2,186.01 L188.6,185.87 L188.0,185.73 L187.4,185.60 L186.9,185.47 L186.3,185.34 L185.7,185.23 L185.2,185.11 L184.7,185.01 L184.3,184.91 L183.9,184.81 L183.5,184.73 L183.2,184.65 L182.5,184.36 L182.8,184.25Z" fill="#fff" stroke="#000" stroke-width="1.35" stroke-linejoin="round"/>
<line x1="206.60" y1="172.95" x2="206.60" y2="190.55" stroke="#39568c" stroke-width="1.1"/>
<line x1="226.40" y1="175.27" x2="226.40" y2="188.23" stroke="#b71c48" stroke-width="1.1"/>
<line x1="253.00" y1="178.35" x2="253.00" y2="185.15" stroke="#39568c" stroke-width="1.3"/>
<path d="M166.5,205.90 L167.0,206.26 L167.5,206.63 L168.0,206.99 L168.5,207.30 L169.0,207.61 L169.5,207.91 L169.9,208.13 L170.5,208.20 L171.0,208.12 L171.6,207.93 L172.1,207.67 L172.7,207.36 L173.3,207.00 L173.8,206.57 L174.4,206.06 L174.9,205.51 L175.5,204.98 L176.0,204.50 L176.6,204.06 L177.1,203.63 L177.7,203.24 L178.2,202.91 L178.7,202.70 L179.3,202.57 L179.9,202.68 L180.5,203.00 L181.0,203.34 L181.6,203.82 L182.1,204.34 L182.7,204.83 L183.2,205.20 L183.9,205.56 L184.4,205.74 L185.0,205.90 L185.5,205.98 L186.0,206.03 L186.6,206.30 L187.1,206.65 L187.6,207.10 L188.2,207.62 L188.8,208.17 L189.5,208.70 L190.0,209.04 L190.5,209.41 L191.0,209.79 L191.6,210.17 L192.1,210.54 L192.6,210.87 L193.1,211.17 L193.5,211.40 L194.1,211.67 L194.5,211.77 L194.9,211.81 L195.5,211.90 L195.9,212.01 L196.4,212.15 L196.9,212.31 L197.4,212.45 L197.9,212.58 L198.5,212.67 L199.0,212.70 L199.5,212.68 L200.0,212.61 L200.6,212.51 L201.1,212.38 L201.6,212.23 L202.2,212.07 L202.7,211.90 L203.2,211.73 L203.7,211.50 L204.2,211.26 L204.7,211.01 L205.2,210.77 L205.7,210.58 L206.2,210.45 L206.7,210.40 L207.3,210.46 L207.8,210.61 L208.4,210.83 L208.9,211.09 L209.5,211.38 L210.0,211.65 L210.6,211.90 L211.1,212.12 L211.6,212.37 L212.2,212.63 L212.7,212.89 L213.2,213.13 L213.7,213.32 L214.3,213.45 L214.8,213.50 L215.3,213.45 L215.9,213.30 L216.4,213.09 L217.0,212.84 L217.5,212.57 L218.0,212.30 L218.5,212.07 L219.0,211.90 L219.6,211.74 L220.1,211.61 L220.5,211.51 L221.0,211.43 L221.5,211.37 L222.0,211.30 L222.5,211.25 L222.9,211.21 L223.5,211.17 L224.0,211.14 L224.5,211.11 L225.0,211.10 L225.5,211.09 L226.0,211.10 L226.6,211.14 L227.1,211.22 L227.6,211.31 L228.1,211.40 L228.6,211.47 L229.2,211.50 L229.7,211.48 L230.3,211.42 L230.8,211.33 L231.4,211.25 L232.0,211.17 L232.5,211.11 L233.0,211.10 L233.5,211.14 L233.8,211.23 L234.2,211.34 L234.6,211.46 L235.2,211.57 L236.0,211.65 L236.3,211.67 L236.5,211.68 L236.6,211.70 L236.7,211.71 L236.8,211.72 L236.9,211.73 L236.9,211.74 L237.1,211.74 L237.2,211.75 L237.5,211.75 L237.9,211.76 L238.4,211.76 L239.0,211.77 L239.8,211.77 L240.8,211.77 L241.9,211.77 L243.4,211.78 L245.0,211.78 L245.3,211.78 L245.6,211.78 L245.9,211.78 L246.2,211.78 L246.6,211.78 L246.9,211.78 L247.3,211.78 L247.7,211.78 L248.0,211.78 L248.4,211.79 L248.8,211.79 L249.2,211.79 L249.6,211.79 L250.0,211.79 L250.5,211.79 L250.9,211.79 L251.3,211.79 L251.8,211.79 L252.3,211.79 L252.7,211.79 L253.2,211.79 L253.7,211.79 L254.1,211.79 L254.6,211.79 L255.1,211.79 L255.6,211.79 L256.1,211.79 L256.7,211.79 L257.2,211.79 L257.7,211.79 L258.2,211.79 L258.8,211.79 L259.3,211.79 L259.9,211.79 L260.4,211.79 L261.0,211.79 L261.5,211.79 L262.1,211.79 L262.6,211.79 L263.2,211.79 L263.8,211.79 L264.4,211.79 L264.9,211.79 L265.5,211.79 L266.1,211.79 L266.7,211.79 L267.3,211.79 L267.9,211.79 L268.4,211.79 L269.0,211.79 L269.6,211.79 L270.2,211.79 L270.8,211.79 L271.4,211.79 L272.0,211.79 L272.6,211.79 L273.2,211.79 L273.8,211.79 L274.4,211.79 L275.0,211.79 L275.6,211.79 L276.2,211.79 L276.8,211.79 L277.3,211.79 L277.9,211.79 L278.5,211.79 L279.1,211.79 L279.7,211.79 L280.3,211.79 L280.9,211.79 L281.4,211.79 L282.0,211.79 L282.6,211.79 L283.2,211.79 L283.7,211.79 L284.3,211.79 L284.8,211.79 L285.4,211.79 L285.9,211.79 L286.5,211.79 L287.0,211.79 L287.6,211.79 L288.1,211.79 L288.6,211.79 L289.2,211.79 L289.7,211.79 L290.2,211.79 L290.7,211.79 L291.2,211.79 L291.7,211.79 L292.2,211.79 L292.7,211.79 L293.1,211.79 L293.6,211.79 L294.1,211.79 L294.5,211.78 L295.0,211.78 L295.4,211.78 L295.8,211.78 L296.3,211.78 L296.7,211.78 L297.1,211.78 L297.5,211.78 L297.9,211.78 L298.2,211.78 L298.6,211.78 L299.0,211.78 L299.3,211.78 L299.7,211.78 L300.0,211.78 L301.0,211.78 L302.0,211.78 L302.9,211.78 L303.8,211.78 L304.7,211.78 L305.5,211.78 L306.2,211.78 L306.9,211.78 L307.6,211.78 L308.3,211.78 L308.9,211.78 L309.4,211.78 L310.0,211.78 L310.5,211.78 L311.0,211.78 L311.4,211.78 L311.8,211.78 L312.2,211.78 L312.6,211.78 L313.0,211.78 L313.3,211.78 L313.7,211.78 L314.0,211.77 L314.3,211.77 L314.6,211.77 L314.9,211.76 L315.1,211.76 L315.4,211.75 L315.7,211.75 L315.9,211.74 L316.2,211.73 L316.5,211.72 L316.7,211.71 L317.0,211.70 L318.7,211.48 L318.7,211.20 L318.6,211.00 L319.3,210.97 L319.8,211.10 L320.1,211.37 L320.3,211.70 L320.3,212.10 L320.1,212.43 L319.8,212.70 L319.3,212.83 L318.6,212.80 L318.7,212.60 L318.7,212.32 L317.0,212.10 L316.7,212.09 L316.5,212.08 L316.2,212.07 L315.9,212.06 L315.7,212.05 L315.4,212.05 L315.1,212.04 L314.9,212.04 L314.6,212.03 L314.3,212.03 L314.0,212.03 L313.7,212.02 L313.3,212.02 L313.0,212.02 L312.6,212.02 L312.2,212.02 L311.8,212.02 L311.4,212.02 L311.0,212.02 L310.5,212.02 L310.0,212.02 L309.4,212.02 L308.9,212.02 L308.3,212.02 L307.6,212.02 L306.9,212.02 L306.2,212.02 L305.5,212.02 L304.7,212.02 L303.8,212.02 L302.9,212.02 L302.0,212.02 L301.0,212.02 L300.0,212.02 L299.7,212.02 L299.3,212.02 L299.0,212.02 L298.6,212.02 L298.2,212.02 L297.9,212.02 L297.5,212.02 L297.1,212.02 L296.7,212.02 L296.3,212.02 L295.8,212.02 L295.4,212.02 L295.0,212.02 L294.5,212.02 L294.1,212.01 L293.6,212.01 L293.1,212.01 L292.7,212.01 L292.2,212.01 L291.7,212.01 L291.2,212.01 L290.7,212.01 L290.2,212.01 L289.7,212.01 L289.2,212.01 L288.6,212.01 L288.1,212.01 L287.6,212.01 L287.0,212.01 L286.5,212.01 L285.9,212.01 L285.4,212.01 L284.8,212.01 L284.3,212.01 L283.7,212.01 L283.2,212.01 L282.6,212.01 L282.0,212.01 L281.4,212.01 L280.9,212.01 L280.3,212.01 L279.7,212.01 L279.1,212.01 L278.5,212.01 L277.9,212.01 L277.3,212.01 L276.8,212.01 L276.2,212.01 L275.6,212.01 L275.0,212.01 L274.4,212.01 L273.8,212.01 L273.2,212.01 L272.6,212.01 L272.0,212.01 L271.4,212.01 L270.8,212.01 L270.2,212.01 L269.6,212.01 L269.0,212.01 L268.4,212.01 L267.9,212.01 L267.3,212.01 L266.7,212.01 L266.1,212.01 L265.5,212.01 L264.9,212.01 L264.4,212.01 L263.8,212.01 L263.2,212.01 L262.6,212.01 L262.1,212.01 L261.5,212.01 L261.0,212.01 L260.4,212.01 L259.9,212.01 L259.3,212.01 L258.8,212.01 L258.2,212.01 L257.7,212.01 L257.2,212.01 L256.7,212.01 L256.1,212.01 L255.6,212.01 L255.1,212.01 L254.6,212.01 L254.1,212.01 L253.7,212.01 L253.2,212.01 L252.7,212.01 L252.3,212.01 L251.8,212.01 L251.3,212.01 L250.9,212.01 L250.5,212.01 L250.0,212.01 L249.6,212.01 L249.2,212.01 L248.8,212.01 L248.4,212.01 L248.0,212.02 L247.7,212.02 L247.3,212.02 L246.9,212.02 L246.6,212.02 L246.2,212.02 L245.9,212.02 L245.6,212.02 L245.3,212.02 L245.0,212.02 L243.4,212.02 L241.9,212.03 L240.8,212.03 L239.8,212.03 L239.0,212.03 L238.4,212.04 L237.9,212.04 L237.5,212.05 L237.2,212.05 L237.1,212.06 L236.9,212.06 L236.9,212.07 L236.8,212.08 L236.7,212.09 L236.6,212.10 L236.5,212.12 L236.3,212.13 L236.0,212.15 L235.2,212.23 L234.6,212.34 L234.2,212.46 L233.8,212.57 L233.5,212.66 L233.0,212.70 L232.5,212.69 L232.0,212.63 L231.4,212.55 L230.8,212.47 L230.3,212.38 L229.7,212.32 L229.2,212.30 L228.6,212.33 L228.1,212.40 L227.6,212.49 L227.1,212.58 L226.6,212.66 L226.0,212.70 L225.5,212.71 L225.0,212.70 L224.5,212.69 L224.0,212.66 L223.5,212.63 L222.9,212.59 L222.5,212.55 L222.0,212.50 L221.5,212.43 L221.0,212.37 L220.5,212.29 L220.1,212.19 L219.6,212.06 L219.0,211.90 L218.5,211.73 L218.0,211.50 L217.5,211.23 L217.0,210.96 L216.4,210.71 L215.9,210.50 L215.3,210.35 L214.8,210.30 L214.3,210.35 L213.7,210.48 L213.2,210.67 L212.7,210.91 L212.2,211.17 L211.6,211.43 L211.1,211.68 L210.6,211.90 L210.0,212.15 L209.5,212.42 L208.9,212.71 L208.4,212.97 L207.8,213.19 L207.3,213.34 L206.7,213.40 L206.2,213.35 L205.7,213.22 L205.2,213.03 L204.7,212.79 L204.2,212.54 L203.7,212.30 L203.2,212.07 L202.7,211.90 L202.2,211.73 L201.6,211.57 L201.1,211.42 L200.6,211.29 L200.0,211.19 L199.5,211.12 L199.0,211.10 L198.5,211.13 L197.9,211.22 L197.4,211.35 L196.9,211.49 L196.4,211.65 L195.9,211.79 L195.5,211.90 L194.9,211.99 L194.5,212.03 L194.1,212.13 L193.5,212.40 L193.1,212.63 L192.6,212.93 L192.1,213.26 L191.6,213.63 L191.0,214.01 L190.5,214.39 L190.0,214.76 L189.5,215.10 L188.8,215.63 L188.2,216.18 L187.6,216.70 L187.1,217.15 L186.6,217.50 L186.0,217.77 L185.5,217.82 L185.0,217.90 L184.4,218.06 L183.9,218.24 L183.2,218.60 L182.7,218.97 L182.1,219.46 L181.6,219.98 L181.0,220.46 L180.5,220.80 L179.9,221.12 L179.3,221.23 L178.7,221.10 L178.2,220.89 L177.7,220.56 L177.1,220.17 L176.6,219.74 L176.0,219.30 L175.5,218.82 L174.9,218.29 L174.4,217.74 L173.8,217.23 L173.3,216.80 L172.7,216.44 L172.1,216.13 L171.6,215.87 L171.0,215.68 L170.5,215.60 L169.9,215.67 L169.5,215.89 L169.0,216.19 L168.5,216.50 L168.0,216.81 L167.5,217.17 L167.0,217.54 L166.5,217.90Z" fill="#fff" stroke="#000" stroke-width="1.35" stroke-linejoin="round"/>
<line x1="173.30" y1="207.40" x2="173.30" y2="216.40" stroke="#5a74a8" stroke-width="1.2"/>
<line x1="179.70" y1="203.05" x2="179.70" y2="220.75" stroke="#b71c48" stroke-width="2.0"/>
<line x1="186.20" y1="206.53" x2="186.20" y2="217.27" stroke="#39568c" stroke-width="1.4"/>

<line x1="166.5" y1="10" x2="166.5" y2="232.8" stroke="#000" stroke-width="1.25"/>
<line x1="165.9" y1="232.2" x2="504" y2="232.2" stroke="#000" stroke-width="1.35"/>
<line x1="166.30" y1="232.2" x2="166.30" y2="236.6" stroke="#000" stroke-width="1.15"/>
<text x="0" y="0" text-anchor="middle" class="tk" transform="translate(166.30 251.7) scale(1.08 1)">0</text>
<line x1="232.88" y1="232.2" x2="232.88" y2="236.6" stroke="#000" stroke-width="1.15"/>
<text x="0" y="0" text-anchor="middle" class="tk" transform="translate(232.88 251.7) scale(1.08 1)">20</text>
<line x1="299.46" y1="232.2" x2="299.46" y2="236.6" stroke="#000" stroke-width="1.15"/>
<text x="0" y="0" text-anchor="middle" class="tk" transform="translate(299.46 251.7) scale(1.08 1)">40</text>
<line x1="366.04" y1="232.2" x2="366.04" y2="236.6" stroke="#000" stroke-width="1.15"/>
<text x="0" y="0" text-anchor="middle" class="tk" transform="translate(366.04 251.7) scale(1.08 1)">60</text>
<line x1="432.62" y1="232.2" x2="432.62" y2="236.6" stroke="#000" stroke-width="1.15"/>
<text x="0" y="0" text-anchor="middle" class="tk" transform="translate(432.62 251.7) scale(1.08 1)">80</text>
<line x1="499.20" y1="232.2" x2="499.20" y2="236.6" stroke="#000" stroke-width="1.15"/>
<text x="0" y="0" text-anchor="middle" class="tk" transform="translate(499.20 251.7) scale(1.08 1)">100</text>
<line x1="161.8" y1="30.80" x2="166.5" y2="30.80" stroke="#000" stroke-width="1.1"/>
<text x="0" y="0" text-anchor="end" class="lb" transform="translate(157.7 35.00) scale(0.925 1)">PEX total (n)</text>
<line x1="161.8" y1="60.90" x2="166.5" y2="60.90" stroke="#000" stroke-width="1.1"/>
<text x="0" y="0" text-anchor="end" class="lb" transform="translate(157.7 65.00) scale(0.925 1)">PEX on caplacizumab (n)</text>
<line x1="161.8" y1="91.10" x2="166.5" y2="91.10" stroke="#000" stroke-width="1.1"/>
<text x="0" y="0" text-anchor="end" class="lb" transform="translate(157.7 95.00) scale(0.925 1)">First caplacizumab dose (d)</text>
<line x1="161.8" y1="121.30" x2="166.5" y2="121.30" stroke="#000" stroke-width="1.1"/>
<text x="0" y="0" text-anchor="end" class="lb" transform="translate(157.7 125.00) scale(0.925 1)">Total caplacizumab doses (n)</text>
<line x1="161.8" y1="151.50" x2="166.5" y2="151.50" stroke="#000" stroke-width="1.1"/>
<text x="0" y="0" text-anchor="end" class="lb" transform="translate(157.7 155.00) scale(0.925 1)">First rituximab dose (d)</text>
<line x1="161.8" y1="181.75" x2="166.5" y2="181.75" stroke="#000" stroke-width="1.1"/>
<text x="0" y="0" text-anchor="end" class="lb" transform="translate(157.7 185.70) scale(0.925 1)">Total hospital stay<tspan dx="0.5" dy="-4.5" class="sup">a</tspan><tspan dy="4.5"> (d)</tspan></text>
<line x1="161.8" y1="211.90" x2="166.5" y2="211.90" stroke="#000" stroke-width="1.1"/>
<text x="0" y="0" text-anchor="end" class="lb" transform="translate(157.7 216.00) scale(0.925 1)">Total ICU stay<tspan dx="0.5" dy="-4.5" class="sup">a</tspan><tspan dy="4.5"> (d)</tspan></text>
<text x="0" y="0" text-anchor="middle" class="ttl" transform="translate(334.8 271.3) scale(0.705 1)">Time [days]</text>
</svg>
<div class="frame"></div>
</body></html>
